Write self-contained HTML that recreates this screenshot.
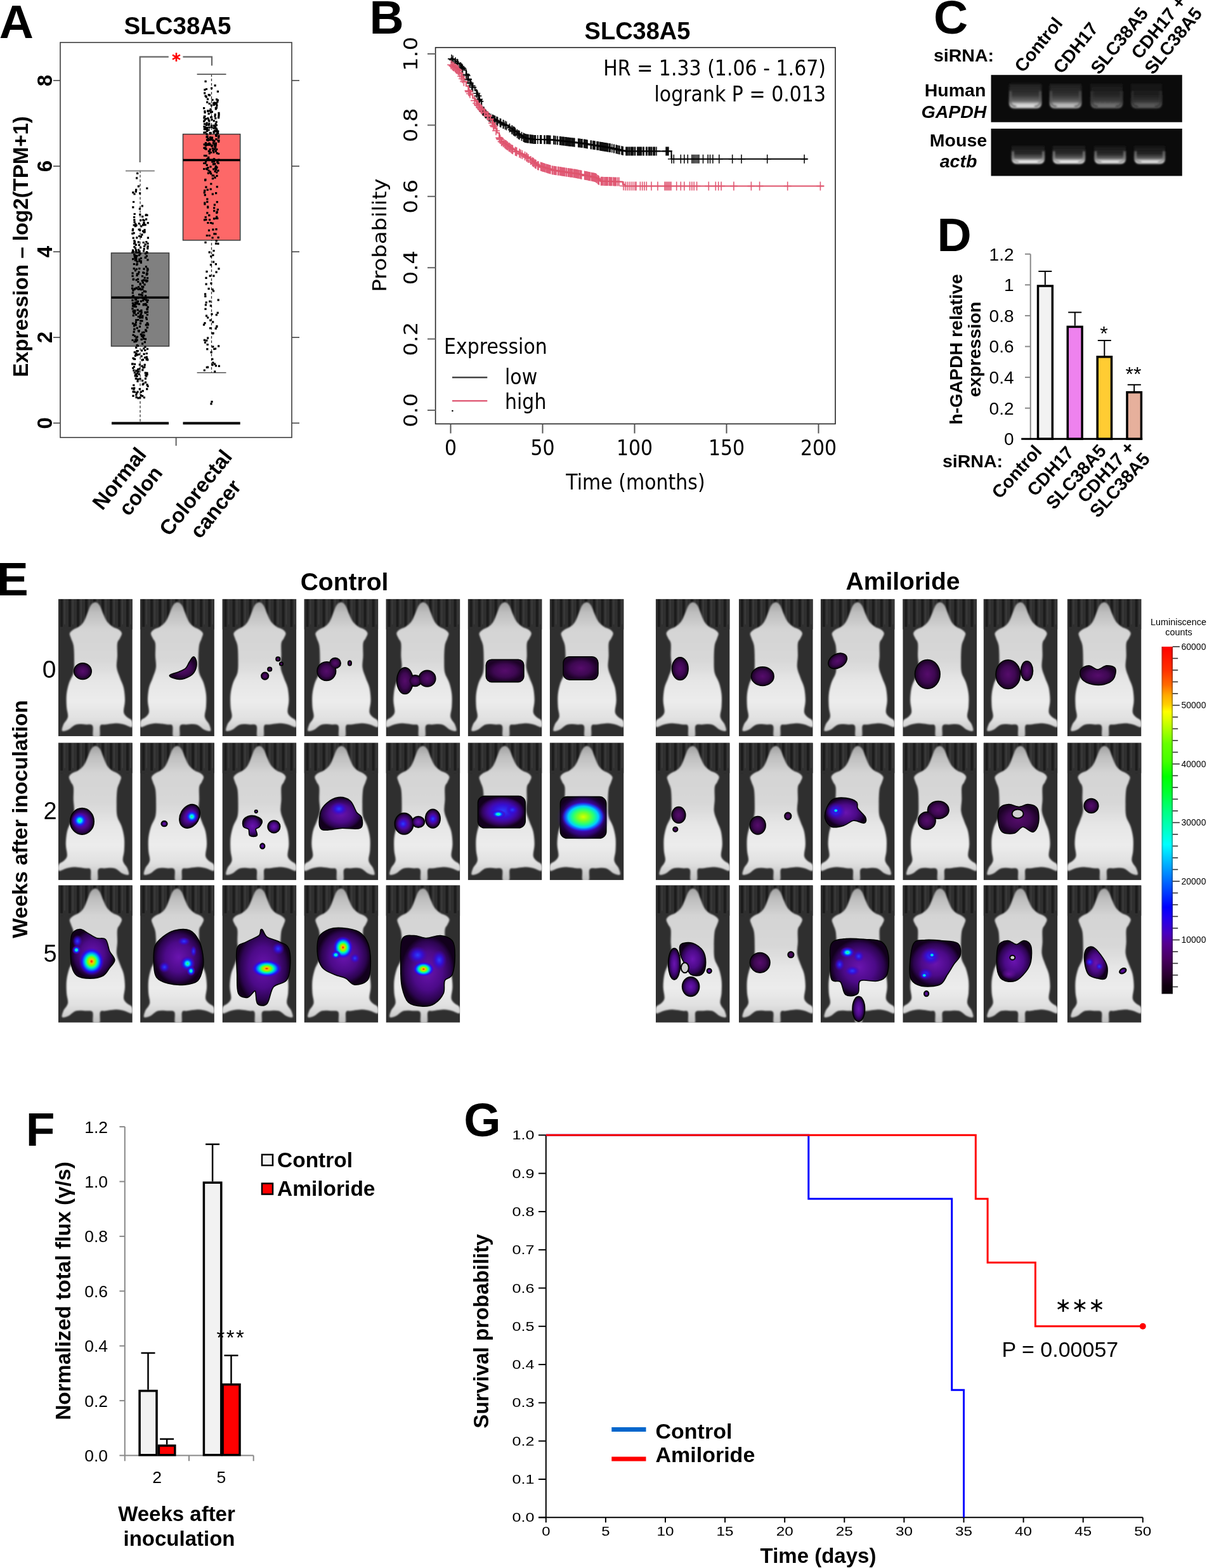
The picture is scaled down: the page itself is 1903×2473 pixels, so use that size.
<!DOCTYPE html>
<html><head><meta charset="utf-8"><title>Figure</title>
<style>html,body{margin:0;padding:0;background:#fff;}svg{display:block;}</style>
</head><body>
<svg width="1903" height="2473" viewBox="0 0 1903 2473" font-family="'Liberation Sans', Arial, Helvetica, sans-serif">
<rect width="1903" height="2473" fill="#fff"/>
<defs>
<clipPath id="tclip"><rect width="116.8" height="216.5"/></clipPath>
<filter id="blur1" x="-20%" y="-50%" width="140%" height="200%"><feGaussianBlur stdDeviation="1.2"/></filter>
<filter id="blur2" x="-20%" y="-50%" width="140%" height="200%"><feGaussianBlur stdDeviation="1.8"/></filter>
<filter id="blur3" x="-20%" y="-50%" width="140%" height="200%"><feGaussianBlur stdDeviation="3"/></filter>
<filter id="mblur" x="-5%" y="-5%" width="110%" height="110%"><feGaussianBlur stdDeviation="1.3"/></filter>
<linearGradient id="mg" gradientUnits="userSpaceOnUse" x1="0" y1="0" x2="0" y2="216">
<stop offset="0" stop-color="#9a9a9a"/><stop offset="0.1" stop-color="#bebebe"/><stop offset="0.22" stop-color="#d4d4d4"/>
<stop offset="0.45" stop-color="#d8d8d8"/><stop offset="0.6" stop-color="#e6e6e6"/><stop offset="0.75" stop-color="#ececec"/><stop offset="0.88" stop-color="#e0e0e0"/><stop offset="1" stop-color="#c0c0c0"/>
</linearGradient>
<pattern id="stripes" patternUnits="userSpaceOnUse" width="13" height="48">
<rect width="13" height="48" fill="#2f2f2f"/><rect x="3" width="4" height="44" fill="#1c1c1c"/><rect x="9" width="2" height="40" fill="#3a3a3a"/>
</pattern>
<path id="mouse" d="M58.0 5.0 C60.3 5.0 62.8 6.8 65.0 10.0 C67.2 13.2 69.0 19.7 71.0 24.0 C73.0 28.3 74.5 32.7 77.0 36.0 C79.5 39.3 83.0 42.0 86.0 44.0 C89.0 46.0 92.7 46.3 95.0 48.0 C97.3 49.7 99.7 51.7 100.0 54.0 C100.3 56.3 98.2 59.3 97.0 62.0 C95.8 64.7 93.7 65.3 93.0 70.0 C92.3 74.7 93.2 83.7 93.0 90.0 C92.8 96.3 91.3 102.3 92.0 108.0 C92.7 113.7 95.2 118.7 97.0 124.0 C98.8 129.3 101.7 134.0 103.0 140.0 C104.3 146.0 105.0 153.7 105.0 160.0 C105.0 166.3 102.5 173.7 103.0 178.0 C103.5 182.3 105.8 183.7 108.0 186.0 C110.2 188.3 114.7 189.3 116.0 192.0 C117.3 194.7 118.0 201.0 116.0 202.0 C114.0 203.0 108.0 199.0 104.0 198.0 C100.0 197.0 97.0 196.0 92.0 196.0 C87.0 196.0 78.3 197.3 74.0 198.0 C69.7 198.7 67.5 196.8 66.0 200.0 C64.5 203.2 66.8 214.2 65.0 217.0 C63.2 219.8 56.8 219.8 55.0 217.0 C53.2 214.2 55.8 203.2 54.0 200.0 C52.2 196.8 48.3 198.3 44.0 198.0 C39.7 197.7 32.7 196.7 28.0 198.0 C23.3 199.3 19.7 204.3 16.0 206.0 C12.3 207.7 7.3 209.3 6.0 208.0 C4.7 206.7 6.5 201.7 8.0 198.0 C9.5 194.3 14.2 190.7 15.0 186.0 C15.8 181.3 13.3 176.0 13.0 170.0 C12.7 164.0 12.3 156.3 13.0 150.0 C13.7 143.7 15.2 137.7 17.0 132.0 C18.8 126.3 22.7 122.0 24.0 116.0 C25.3 110.0 25.0 103.0 25.0 96.0 C25.0 89.0 24.8 79.7 24.0 74.0 C23.2 68.3 21.0 65.3 20.0 62.0 C19.0 58.7 17.3 56.3 18.0 54.0 C18.7 51.7 21.7 49.7 24.0 48.0 C26.3 46.3 29.3 46.0 32.0 44.0 C34.7 42.0 37.7 39.7 40.0 36.0 C42.3 32.3 44.2 26.3 46.0 22.0 C47.8 17.7 49.0 12.8 51.0 10.0 C53.0 7.2 55.7 5.0 58.0 5.0Z" fill="url(#mg)" filter="url(#mblur)"/>
<radialGradient id="gP"><stop offset="0" stop-color="#560c6c"/><stop offset="0.6" stop-color="#3e0852"/><stop offset="1" stop-color="#1c0226"/></radialGradient>
<radialGradient id="gV"><stop offset="0" stop-color="#6a14b0"/><stop offset="0.55" stop-color="#4c0a88"/><stop offset="0.85" stop-color="#2c0450"/><stop offset="1" stop-color="#12001c"/></radialGradient>
<radialGradient id="h4"><stop offset="0" stop-color="#d8ff00"/><stop offset="0.25" stop-color="#80ff20"/><stop offset="0.5" stop-color="#20ff80"/><stop offset="0.7" stop-color="#00d0ff"/><stop offset="0.87" stop-color="#1848ff" stop-opacity="0.8"/><stop offset="1" stop-color="#4a00c0" stop-opacity="0"/></radialGradient>
<radialGradient id="h0"><stop offset="0" stop-color="#6a10a0"/><stop offset="1" stop-color="#6a10a0" stop-opacity="0"/></radialGradient>
<radialGradient id="h1"><stop offset="0" stop-color="#2a40ff"/><stop offset="0.45" stop-color="#3010e0" stop-opacity="0.85"/><stop offset="1" stop-color="#4800b0" stop-opacity="0"/></radialGradient>
<radialGradient id="h2"><stop offset="0" stop-color="#30ff50"/><stop offset="0.22" stop-color="#00e8ff"/><stop offset="0.5" stop-color="#1030ff"/><stop offset="0.8" stop-color="#4a00c0" stop-opacity="0.6"/><stop offset="1" stop-color="#4a00c0" stop-opacity="0"/></radialGradient>
<radialGradient id="h3"><stop offset="0" stop-color="#ff1000"/><stop offset="0.14" stop-color="#ffc000"/><stop offset="0.3" stop-color="#80ff00"/><stop offset="0.45" stop-color="#00ffb0"/><stop offset="0.6" stop-color="#0090ff"/><stop offset="0.76" stop-color="#2010ff" stop-opacity="0.9"/><stop offset="1" stop-color="#4a00c0" stop-opacity="0"/></radialGradient>
<linearGradient id="cbar" x1="0" y1="0" x2="0" y2="1"><stop offset="0" stop-color="#ff0000"/><stop offset="0.067" stop-color="#ff3000"/><stop offset="0.11" stop-color="#ff6a00"/><stop offset="0.14" stop-color="#ffaa00"/><stop offset="0.167" stop-color="#ffd000"/><stop offset="0.187" stop-color="#ffff00"/><stop offset="0.21" stop-color="#ddff00"/><stop offset="0.24" stop-color="#aaff00"/><stop offset="0.28" stop-color="#66ff00"/><stop offset="0.33" stop-color="#44ff00"/><stop offset="0.374" stop-color="#00ff00"/><stop offset="0.419" stop-color="#00ff30"/><stop offset="0.473" stop-color="#00ff80"/><stop offset="0.524" stop-color="#00ffc0"/><stop offset="0.57" stop-color="#00ffff"/><stop offset="0.615" stop-color="#00c0ff"/><stop offset="0.66" stop-color="#0080ff"/><stop offset="0.705" stop-color="#0040ff"/><stop offset="0.75" stop-color="#0000ff"/><stop offset="0.78" stop-color="#2000f0"/><stop offset="0.826" stop-color="#4800c0"/><stop offset="0.856" stop-color="#550090"/><stop offset="0.9" stop-color="#480060"/><stop offset="0.946" stop-color="#2a0030"/><stop offset="0.976" stop-color="#100010"/><stop offset="1" stop-color="#080008"/></linearGradient>
<linearGradient id="cbarShade" x1="0" y1="0" x2="1" y2="0">
<stop offset="0" stop-color="#888" stop-opacity="0.55"/><stop offset="0.15" stop-color="#000" stop-opacity="0"/><stop offset="0.85" stop-color="#000" stop-opacity="0"/><stop offset="1" stop-color="#000" stop-opacity="0.45"/>
</linearGradient>
</defs>
<text x="-1.2" y="60.0" font-size="75.0" font-weight="bold">A</text>
<text x="280.0" y="53.6" font-size="38.5" font-weight="bold" text-anchor="middle">SLC38A5</text>
<line x1="221.0" y1="268.8" x2="221.0" y2="667.3" stroke="#333" stroke-width="1.30" stroke-dasharray="4,3"/>
<line x1="333.5" y1="117.1" x2="333.5" y2="587.7" stroke="#333" stroke-width="1.30" stroke-dasharray="4,3"/>
<rect x="175.5" y="399.0" width="91.0" height="147.0" fill="#808080" stroke="#3a3a3a" stroke-width="1.50"/>
<line x1="175.5" y1="469.3" x2="266.5" y2="469.3" stroke="#000" stroke-width="3.50"/>
<rect x="288.5" y="211.6" width="90.2" height="167.3" fill="#fd6868" stroke="#3a3a3a" stroke-width="1.50"/>
<line x1="288.5" y1="252.6" x2="378.7" y2="252.6" stroke="#000" stroke-width="3.50"/>
<line x1="198.0" y1="269.5" x2="243.8" y2="269.5" stroke="#888" stroke-width="2.00"/>
<line x1="310.6" y1="117.1" x2="356.5" y2="117.1" stroke="#555" stroke-width="1.60"/>
<line x1="310.6" y1="587.7" x2="356.5" y2="587.7" stroke="#555" stroke-width="1.60"/>
<line x1="176.0" y1="667.5" x2="266.0" y2="667.5" stroke="#000" stroke-width="4.00"/>
<line x1="288.5" y1="667.5" x2="378.7" y2="667.5" stroke="#000" stroke-width="4.00"/>
<path d="M223.2 582.0h3.2v3.2h-3.2zM216.0 468.4h3.2v3.2h-3.2zM207.8 476.8h3.2v3.2h-3.2zM209.2 605.9h3.2v3.2h-3.2zM210.0 382.5h3.2v3.2h-3.2zM230.6 441.3h3.2v3.2h-3.2zM231.3 509.4h3.2v3.2h-3.2zM214.1 373.2h3.2v3.2h-3.2zM214.6 591.8h3.2v3.2h-3.2zM222.9 434.1h3.2v3.2h-3.2zM208.5 464.9h3.2v3.2h-3.2zM223.9 565.7h3.2v3.2h-3.2zM221.5 533.8h3.2v3.2h-3.2zM226.8 538.1h3.2v3.2h-3.2zM213.0 393.0h3.2v3.2h-3.2zM228.8 471.5h3.2v3.2h-3.2zM209.9 512.3h3.2v3.2h-3.2zM210.7 403.1h3.2v3.2h-3.2zM223.6 615.0h3.2v3.2h-3.2zM214.7 587.3h3.2v3.2h-3.2zM221.8 527.8h3.2v3.2h-3.2zM227.9 491.9h3.2v3.2h-3.2zM208.4 563.4h3.2v3.2h-3.2zM223.1 454.5h3.2v3.2h-3.2zM214.0 279.2h3.2v3.2h-3.2zM207.5 429.2h3.2v3.2h-3.2zM209.8 576.9h3.2v3.2h-3.2zM210.1 399.8h3.2v3.2h-3.2zM228.7 511.1h3.2v3.2h-3.2zM220.6 493.9h3.2v3.2h-3.2zM213.9 415.8h3.2v3.2h-3.2zM229.0 520.6h3.2v3.2h-3.2zM210.7 586.0h3.2v3.2h-3.2zM212.7 558.1h3.2v3.2h-3.2zM213.5 452.6h3.2v3.2h-3.2zM216.1 502.9h3.2v3.2h-3.2zM224.2 345.2h3.2v3.2h-3.2zM223.8 444.2h3.2v3.2h-3.2zM226.4 361.0h3.2v3.2h-3.2zM216.9 450.9h3.2v3.2h-3.2zM208.5 439.3h3.2v3.2h-3.2zM211.0 564.9h3.2v3.2h-3.2zM206.9 611.0h3.2v3.2h-3.2zM216.0 596.6h3.2v3.2h-3.2zM222.3 368.5h3.2v3.2h-3.2zM215.6 552.1h3.2v3.2h-3.2zM228.1 590.3h3.2v3.2h-3.2zM219.0 303.3h3.2v3.2h-3.2zM215.5 596.4h3.2v3.2h-3.2zM210.9 381.9h3.2v3.2h-3.2zM220.1 345.8h3.2v3.2h-3.2zM207.6 466.2h3.2v3.2h-3.2zM228.5 337.7h3.2v3.2h-3.2zM213.4 531.0h3.2v3.2h-3.2zM226.2 577.2h3.2v3.2h-3.2zM215.1 396.6h3.2v3.2h-3.2zM231.5 387.0h3.2v3.2h-3.2zM225.4 428.9h3.2v3.2h-3.2zM215.8 473.7h3.2v3.2h-3.2zM213.9 618.3h3.2v3.2h-3.2zM230.8 422.1h3.2v3.2h-3.2zM231.6 350.0h3.2v3.2h-3.2zM216.0 581.1h3.2v3.2h-3.2zM211.8 559.6h3.2v3.2h-3.2zM229.4 442.3h3.2v3.2h-3.2zM226.9 562.4h3.2v3.2h-3.2zM229.6 431.6h3.2v3.2h-3.2zM225.7 457.8h3.2v3.2h-3.2zM226.6 573.8h3.2v3.2h-3.2zM231.2 390.2h3.2v3.2h-3.2zM230.6 508.1h3.2v3.2h-3.2zM210.7 453.7h3.2v3.2h-3.2zM227.1 440.5h3.2v3.2h-3.2zM231.4 382.6h3.2v3.2h-3.2zM210.2 517.6h3.2v3.2h-3.2zM223.1 340.0h3.2v3.2h-3.2zM217.7 351.0h3.2v3.2h-3.2zM227.6 404.5h3.2v3.2h-3.2zM214.2 552.2h3.2v3.2h-3.2zM213.4 453.4h3.2v3.2h-3.2zM229.7 587.8h3.2v3.2h-3.2zM221.5 491.3h3.2v3.2h-3.2zM219.4 595.8h3.2v3.2h-3.2zM207.4 472.0h3.2v3.2h-3.2zM207.0 572.5h3.2v3.2h-3.2zM211.2 401.2h3.2v3.2h-3.2zM220.8 412.5h3.2v3.2h-3.2zM220.8 473.5h3.2v3.2h-3.2zM213.1 405.2h3.2v3.2h-3.2zM219.6 398.6h3.2v3.2h-3.2zM229.7 402.2h3.2v3.2h-3.2zM219.5 445.7h3.2v3.2h-3.2zM218.2 422.1h3.2v3.2h-3.2zM230.4 485.4h3.2v3.2h-3.2zM228.8 419.0h3.2v3.2h-3.2zM230.5 474.8h3.2v3.2h-3.2zM210.3 387.8h3.2v3.2h-3.2zM208.7 496.0h3.2v3.2h-3.2zM223.6 604.9h3.2v3.2h-3.2zM224.8 440.2h3.2v3.2h-3.2zM210.5 492.2h3.2v3.2h-3.2zM230.7 425.6h3.2v3.2h-3.2zM231.6 482.7h3.2v3.2h-3.2zM210.9 479.0h3.2v3.2h-3.2zM215.4 474.3h3.2v3.2h-3.2zM225.0 532.5h3.2v3.2h-3.2zM217.9 463.0h3.2v3.2h-3.2zM222.5 528.7h3.2v3.2h-3.2zM231.5 607.6h3.2v3.2h-3.2zM213.5 440.1h3.2v3.2h-3.2zM213.7 396.6h3.2v3.2h-3.2zM229.7 501.9h3.2v3.2h-3.2zM213.4 475.2h3.2v3.2h-3.2zM221.2 355.2h3.2v3.2h-3.2zM224.1 451.1h3.2v3.2h-3.2zM230.4 605.2h3.2v3.2h-3.2zM226.9 458.1h3.2v3.2h-3.2zM208.6 373.8h3.2v3.2h-3.2zM220.7 525.8h3.2v3.2h-3.2zM213.6 453.1h3.2v3.2h-3.2zM212.9 471.0h3.2v3.2h-3.2zM208.2 578.9h3.2v3.2h-3.2zM214.5 534.4h3.2v3.2h-3.2zM211.3 488.6h3.2v3.2h-3.2zM213.2 621.2h3.2v3.2h-3.2zM220.7 410.2h3.2v3.2h-3.2zM230.3 486.4h3.2v3.2h-3.2zM217.7 384.8h3.2v3.2h-3.2zM216.7 380.2h3.2v3.2h-3.2zM231.5 423.5h3.2v3.2h-3.2zM224.6 380.9h3.2v3.2h-3.2zM217.0 396.6h3.2v3.2h-3.2zM210.1 610.5h3.2v3.2h-3.2zM213.3 407.9h3.2v3.2h-3.2zM227.9 601.6h3.2v3.2h-3.2zM213.0 494.8h3.2v3.2h-3.2zM210.8 490.9h3.2v3.2h-3.2zM230.9 548.8h3.2v3.2h-3.2zM213.0 297.8h3.2v3.2h-3.2zM214.6 515.7h3.2v3.2h-3.2zM216.4 626.2h3.2v3.2h-3.2zM211.9 478.1h3.2v3.2h-3.2zM213.5 625.1h3.2v3.2h-3.2zM207.9 508.6h3.2v3.2h-3.2zM212.7 536.7h3.2v3.2h-3.2zM225.7 470.3h3.2v3.2h-3.2zM216.6 497.8h3.2v3.2h-3.2zM210.6 335.9h3.2v3.2h-3.2zM223.0 598.7h3.2v3.2h-3.2zM229.2 380.0h3.2v3.2h-3.2zM210.4 481.7h3.2v3.2h-3.2zM227.8 477.7h3.2v3.2h-3.2zM227.6 586.6h3.2v3.2h-3.2zM224.0 363.0h3.2v3.2h-3.2zM210.2 467.8h3.2v3.2h-3.2zM227.8 595.6h3.2v3.2h-3.2zM222.6 441.2h3.2v3.2h-3.2zM219.1 453.8h3.2v3.2h-3.2zM225.6 391.1h3.2v3.2h-3.2zM223.4 468.6h3.2v3.2h-3.2zM213.2 409.1h3.2v3.2h-3.2zM225.1 548.1h3.2v3.2h-3.2zM231.3 408.2h3.2v3.2h-3.2zM218.9 513.6h3.2v3.2h-3.2zM223.0 460.4h3.2v3.2h-3.2zM213.2 583.0h3.2v3.2h-3.2zM214.5 558.2h3.2v3.2h-3.2zM208.4 622.8h3.2v3.2h-3.2zM224.2 428.2h3.2v3.2h-3.2zM218.5 489.5h3.2v3.2h-3.2zM229.2 591.6h3.2v3.2h-3.2zM230.3 337.8h3.2v3.2h-3.2zM227.4 491.1h3.2v3.2h-3.2zM218.1 395.0h3.2v3.2h-3.2zM230.5 564.6h3.2v3.2h-3.2zM210.4 454.9h3.2v3.2h-3.2zM210.2 345.3h3.2v3.2h-3.2zM224.5 603.6h3.2v3.2h-3.2zM219.1 361.6h3.2v3.2h-3.2zM219.2 625.5h3.2v3.2h-3.2zM210.4 537.4h3.2v3.2h-3.2zM227.9 533.2h3.2v3.2h-3.2zM227.9 404.9h3.2v3.2h-3.2zM224.7 353.1h3.2v3.2h-3.2zM214.1 477.2h3.2v3.2h-3.2zM231.9 510.6h3.2v3.2h-3.2zM217.6 520.1h3.2v3.2h-3.2zM209.4 612.3h3.2v3.2h-3.2zM213.1 503.2h3.2v3.2h-3.2zM211.6 475.7h3.2v3.2h-3.2zM229.0 344.3h3.2v3.2h-3.2zM222.7 323.3h3.2v3.2h-3.2zM224.9 394.4h3.2v3.2h-3.2zM218.2 410.4h3.2v3.2h-3.2zM223.0 499.3h3.2v3.2h-3.2zM230.1 612.1h3.2v3.2h-3.2zM215.5 487.2h3.2v3.2h-3.2zM231.3 408.4h3.2v3.2h-3.2zM214.4 432.9h3.2v3.2h-3.2zM211.1 510.1h3.2v3.2h-3.2zM229.5 565.2h3.2v3.2h-3.2zM229.6 561.6h3.2v3.2h-3.2zM210.4 304.4h3.2v3.2h-3.2zM215.4 599.8h3.2v3.2h-3.2zM213.4 555.9h3.2v3.2h-3.2zM225.6 364.7h3.2v3.2h-3.2zM220.0 504.4h3.2v3.2h-3.2zM208.5 526.7h3.2v3.2h-3.2zM210.0 340.9h3.2v3.2h-3.2zM228.5 440.7h3.2v3.2h-3.2zM213.1 546.5h3.2v3.2h-3.2zM230.7 494.9h3.2v3.2h-3.2zM207.7 460.4h3.2v3.2h-3.2zM229.3 479.5h3.2v3.2h-3.2zM206.9 453.2h3.2v3.2h-3.2zM227.5 353.0h3.2v3.2h-3.2zM209.6 422.1h3.2v3.2h-3.2zM224.0 472.4h3.2v3.2h-3.2zM224.9 478.2h3.2v3.2h-3.2zM220.7 463.2h3.2v3.2h-3.2zM212.7 395.6h3.2v3.2h-3.2zM223.0 540.5h3.2v3.2h-3.2zM213.2 588.8h3.2v3.2h-3.2zM208.7 479.8h3.2v3.2h-3.2zM216.6 454.5h3.2v3.2h-3.2zM207.2 449.1h3.2v3.2h-3.2zM230.9 490.6h3.2v3.2h-3.2zM229.0 499.5h3.2v3.2h-3.2zM213.1 557.2h3.2v3.2h-3.2zM207.4 485.3h3.2v3.2h-3.2zM217.4 427.5h3.2v3.2h-3.2zM230.0 429.6h3.2v3.2h-3.2zM215.4 616.5h3.2v3.2h-3.2zM211.9 425.1h3.2v3.2h-3.2zM225.4 522.6h3.2v3.2h-3.2zM231.1 566.0h3.2v3.2h-3.2zM212.7 384.5h3.2v3.2h-3.2zM214.3 402.1h3.2v3.2h-3.2zM212.5 511.1h3.2v3.2h-3.2zM230.6 430.2h3.2v3.2h-3.2zM212.2 510.4h3.2v3.2h-3.2zM208.2 325.2h3.2v3.2h-3.2zM229.4 510.4h3.2v3.2h-3.2zM225.2 468.7h3.2v3.2h-3.2zM215.1 271.8h3.2v3.2h-3.2zM225.6 350.3h3.2v3.2h-3.2zM216.4 430.4h3.2v3.2h-3.2zM211.1 528.6h3.2v3.2h-3.2zM215.7 543.9h3.2v3.2h-3.2zM212.1 351.8h3.2v3.2h-3.2zM227.5 384.0h3.2v3.2h-3.2zM218.7 612.0h3.2v3.2h-3.2zM211.7 355.1h3.2v3.2h-3.2zM207.7 361.8h3.2v3.2h-3.2zM226.1 386.9h3.2v3.2h-3.2zM208.5 616.2h3.2v3.2h-3.2zM213.3 353.7h3.2v3.2h-3.2zM213.7 422.9h3.2v3.2h-3.2zM222.3 504.6h3.2v3.2h-3.2zM214.8 415.0h3.2v3.2h-3.2zM225.8 625.4h3.2v3.2h-3.2zM207.5 572.2h3.2v3.2h-3.2zM230.8 486.3h3.2v3.2h-3.2zM216.6 584.5h3.2v3.2h-3.2zM219.2 499.6h3.2v3.2h-3.2zM225.4 422.6h3.2v3.2h-3.2zM226.2 364.4h3.2v3.2h-3.2zM214.9 529.8h3.2v3.2h-3.2zM208.9 395.6h3.2v3.2h-3.2zM213.1 404.3h3.2v3.2h-3.2zM220.7 616.5h3.2v3.2h-3.2zM229.0 337.2h3.2v3.2h-3.2zM209.0 316.9h3.2v3.2h-3.2zM224.6 479.4h3.2v3.2h-3.2zM217.3 557.4h3.2v3.2h-3.2zM228.1 518.7h3.2v3.2h-3.2zM209.9 564.5h3.2v3.2h-3.2zM216.2 492.4h3.2v3.2h-3.2zM211.9 390.0h3.2v3.2h-3.2zM210.7 554.1h3.2v3.2h-3.2zM216.8 520.1h3.2v3.2h-3.2zM212.7 300.5h3.2v3.2h-3.2zM223.2 496.8h3.2v3.2h-3.2zM218.8 327.8h3.2v3.2h-3.2zM207.9 393.2h3.2v3.2h-3.2zM211.6 591.3h3.2v3.2h-3.2zM230.2 295.4h3.2v3.2h-3.2zM218.1 370.9h3.2v3.2h-3.2zM230.5 397.0h3.2v3.2h-3.2zM222.4 450.6h3.2v3.2h-3.2zM210.4 517.7h3.2v3.2h-3.2zM221.9 551.3h3.2v3.2h-3.2zM212.0 589.7h3.2v3.2h-3.2zM223.9 529.9h3.2v3.2h-3.2zM212.0 534.4h3.2v3.2h-3.2zM209.4 492.0h3.2v3.2h-3.2zM222.9 464.2h3.2v3.2h-3.2zM224.3 578.2h3.2v3.2h-3.2zM214.6 542.9h3.2v3.2h-3.2zM214.7 476.7h3.2v3.2h-3.2zM217.3 521.1h3.2v3.2h-3.2zM211.8 408.8h3.2v3.2h-3.2zM212.0 471.1h3.2v3.2h-3.2zM217.5 360.4h3.2v3.2h-3.2zM218.4 580.3h3.2v3.2h-3.2zM220.7 622.1h3.2v3.2h-3.2zM229.6 396.0h3.2v3.2h-3.2zM216.2 442.9h3.2v3.2h-3.2zM214.0 583.5h3.2v3.2h-3.2zM209.6 353.4h3.2v3.2h-3.2zM231.1 389.0h3.2v3.2h-3.2zM230.5 589.1h3.2v3.2h-3.2zM208.2 302.1h3.2v3.2h-3.2zM222.4 575.7h3.2v3.2h-3.2zM210.9 379.8h3.2v3.2h-3.2zM228.1 458.4h3.2v3.2h-3.2zM211.5 405.5h3.2v3.2h-3.2zM219.8 508.5h3.2v3.2h-3.2zM213.1 590.2h3.2v3.2h-3.2zM221.0 455.0h3.2v3.2h-3.2zM207.9 481.0h3.2v3.2h-3.2zM220.7 405.7h3.2v3.2h-3.2zM214.6 411.3h3.2v3.2h-3.2zM217.5 454.6h3.2v3.2h-3.2zM207.5 534.9h3.2v3.2h-3.2zM212.8 482.1h3.2v3.2h-3.2zM226.4 447.2h3.2v3.2h-3.2zM218.7 573.5h3.2v3.2h-3.2zM217.7 588.6h3.2v3.2h-3.2zM219.7 496.1h3.2v3.2h-3.2zM209.0 438.7h3.2v3.2h-3.2zM208.3 456.6h3.2v3.2h-3.2zM230.7 515.0h3.2v3.2h-3.2zM231.8 373.6h3.2v3.2h-3.2zM227.3 545.5h3.2v3.2h-3.2zM219.2 336.8h3.2v3.2h-3.2zM226.6 436.5h3.2v3.2h-3.2zM208.5 489.2h3.2v3.2h-3.2zM210.9 403.3h3.2v3.2h-3.2zM210.5 488.3h3.2v3.2h-3.2zM212.1 355.0h3.2v3.2h-3.2zM214.9 477.2h3.2v3.2h-3.2zM210.9 572.8h3.2v3.2h-3.2zM223.9 353.3h3.2v3.2h-3.2zM209.8 414.9h3.2v3.2h-3.2zM215.9 438.7h3.2v3.2h-3.2zM220.8 371.7h3.2v3.2h-3.2zM209.5 366.0h3.2v3.2h-3.2zM216.8 292.2h3.2v3.2h-3.2zM221.3 488.0h3.2v3.2h-3.2zM218.0 400.8h3.2v3.2h-3.2zM208.1 407.1h3.2v3.2h-3.2zM231.5 471.9h3.2v3.2h-3.2zM214.7 430.6h3.2v3.2h-3.2zM210.6 616.6h3.2v3.2h-3.2zM219.7 499.0h3.2v3.2h-3.2zM210.2 378.2h3.2v3.2h-3.2zM207.5 433.8h3.2v3.2h-3.2zM209.6 521.8h3.2v3.2h-3.2zM221.5 560.3h3.2v3.2h-3.2zM222.5 566.3h3.2v3.2h-3.2zM230.3 586.8h3.2v3.2h-3.2zM209.3 582.5h3.2v3.2h-3.2zM216.9 392.5h3.2v3.2h-3.2zM223.0 623.1h3.2v3.2h-3.2zM223.0 523.1h3.2v3.2h-3.2zM225.2 349.9h3.2v3.2h-3.2zM208.0 359.9h3.2v3.2h-3.2zM212.8 506.7h3.2v3.2h-3.2zM207.2 396.6h3.2v3.2h-3.2zM210.5 348.8h3.2v3.2h-3.2zM219.6 447.1h3.2v3.2h-3.2zM227.2 550.9h3.2v3.2h-3.2zM214.4 535.2h3.2v3.2h-3.2zM226.5 364.0h3.2v3.2h-3.2zM225.5 346.2h3.2v3.2h-3.2zM218.2 407.6h3.2v3.2h-3.2zM212.7 595.5h3.2v3.2h-3.2zM225.6 527.5h3.2v3.2h-3.2zM228.0 464.9h3.2v3.2h-3.2zM217.8 478.0h3.2v3.2h-3.2zM220.0 388.7h3.2v3.2h-3.2zM231.0 437.0h3.2v3.2h-3.2zM207.3 366.8h3.2v3.2h-3.2zM225.5 556.8h3.2v3.2h-3.2zM228.9 471.2h3.2v3.2h-3.2zM229.6 555.9h3.2v3.2h-3.2zM224.2 526.9h3.2v3.2h-3.2zM227.9 398.2h3.2v3.2h-3.2zM228.3 479.3h3.2v3.2h-3.2zM333.6 275.3h3.2v3.2h-3.2zM327.3 187.3h3.2v3.2h-3.2zM321.8 199.3h3.2v3.2h-3.2zM341.8 156.4h3.2v3.2h-3.2zM322.5 207.2h3.2v3.2h-3.2zM342.2 205.5h3.2v3.2h-3.2zM320.6 226.2h3.2v3.2h-3.2zM320.9 194.0h3.2v3.2h-3.2zM336.6 234.1h3.2v3.2h-3.2zM337.6 268.7h3.2v3.2h-3.2zM328.6 161.9h3.2v3.2h-3.2zM339.5 190.7h3.2v3.2h-3.2zM321.5 175.8h3.2v3.2h-3.2zM340.7 293.1h3.2v3.2h-3.2zM322.5 126.7h3.2v3.2h-3.2zM324.8 264.7h3.2v3.2h-3.2zM340.2 204.7h3.2v3.2h-3.2zM339.4 206.0h3.2v3.2h-3.2zM335.1 265.2h3.2v3.2h-3.2zM326.8 271.6h3.2v3.2h-3.2zM338.1 197.8h3.2v3.2h-3.2zM324.8 202.0h3.2v3.2h-3.2zM320.4 231.7h3.2v3.2h-3.2zM326.1 173.3h3.2v3.2h-3.2zM328.7 226.7h3.2v3.2h-3.2zM327.6 148.1h3.2v3.2h-3.2zM340.3 164.9h3.2v3.2h-3.2zM334.7 224.3h3.2v3.2h-3.2zM330.4 170.8h3.2v3.2h-3.2zM338.5 204.8h3.2v3.2h-3.2zM332.8 250.5h3.2v3.2h-3.2zM325.1 159.5h3.2v3.2h-3.2zM339.6 201.3h3.2v3.2h-3.2zM324.0 227.1h3.2v3.2h-3.2zM338.2 185.0h3.2v3.2h-3.2zM343.4 213.0h3.2v3.2h-3.2zM331.7 164.5h3.2v3.2h-3.2zM339.0 211.8h3.2v3.2h-3.2zM328.2 193.6h3.2v3.2h-3.2zM339.9 168.3h3.2v3.2h-3.2zM326.7 219.9h3.2v3.2h-3.2zM331.9 198.9h3.2v3.2h-3.2zM322.5 149.8h3.2v3.2h-3.2zM338.8 224.4h3.2v3.2h-3.2zM336.6 226.2h3.2v3.2h-3.2zM328.4 199.6h3.2v3.2h-3.2zM329.5 270.5h3.2v3.2h-3.2zM322.0 282.6h3.2v3.2h-3.2zM341.2 159.0h3.2v3.2h-3.2zM326.2 185.1h3.2v3.2h-3.2zM341.5 208.7h3.2v3.2h-3.2zM341.1 254.1h3.2v3.2h-3.2zM325.5 213.5h3.2v3.2h-3.2zM338.0 263.2h3.2v3.2h-3.2zM338.0 200.6h3.2v3.2h-3.2zM327.7 236.7h3.2v3.2h-3.2zM323.6 244.0h3.2v3.2h-3.2zM337.7 179.1h3.2v3.2h-3.2zM324.0 264.6h3.2v3.2h-3.2zM333.8 280.1h3.2v3.2h-3.2zM322.9 186.1h3.2v3.2h-3.2zM325.6 297.8h3.2v3.2h-3.2zM324.5 192.6h3.2v3.2h-3.2zM340.1 233.9h3.2v3.2h-3.2zM323.6 151.3h3.2v3.2h-3.2zM327.7 195.6h3.2v3.2h-3.2zM332.4 186.9h3.2v3.2h-3.2zM324.4 193.4h3.2v3.2h-3.2zM343.3 181.5h3.2v3.2h-3.2zM343.0 215.8h3.2v3.2h-3.2zM322.3 232.4h3.2v3.2h-3.2zM339.0 303.0h3.2v3.2h-3.2zM337.5 133.2h3.2v3.2h-3.2zM335.2 238.6h3.2v3.2h-3.2zM322.5 202.2h3.2v3.2h-3.2zM320.7 202.0h3.2v3.2h-3.2zM329.5 173.2h3.2v3.2h-3.2zM331.9 196.8h3.2v3.2h-3.2zM335.1 275.4h3.2v3.2h-3.2zM334.4 235.7h3.2v3.2h-3.2zM329.6 207.9h3.2v3.2h-3.2zM330.2 218.4h3.2v3.2h-3.2zM333.7 304.5h3.2v3.2h-3.2zM325.4 213.4h3.2v3.2h-3.2zM337.2 257.0h3.2v3.2h-3.2zM336.7 160.5h3.2v3.2h-3.2zM340.4 262.6h3.2v3.2h-3.2zM330.8 238.9h3.2v3.2h-3.2zM327.4 267.4h3.2v3.2h-3.2zM330.0 226.3h3.2v3.2h-3.2zM338.7 226.9h3.2v3.2h-3.2zM325.9 226.7h3.2v3.2h-3.2zM330.1 270.6h3.2v3.2h-3.2zM329.7 269.3h3.2v3.2h-3.2zM336.1 197.0h3.2v3.2h-3.2zM335.6 189.1h3.2v3.2h-3.2zM338.6 224.5h3.2v3.2h-3.2zM343.3 250.4h3.2v3.2h-3.2zM320.8 181.9h3.2v3.2h-3.2zM338.7 237.1h3.2v3.2h-3.2zM342.5 219.9h3.2v3.2h-3.2zM333.7 232.4h3.2v3.2h-3.2zM332.9 215.5h3.2v3.2h-3.2zM335.2 223.4h3.2v3.2h-3.2zM339.8 262.3h3.2v3.2h-3.2zM342.7 255.8h3.2v3.2h-3.2zM324.9 219.0h3.2v3.2h-3.2zM338.2 229.9h3.2v3.2h-3.2zM322.8 251.5h3.2v3.2h-3.2zM321.3 174.1h3.2v3.2h-3.2zM326.5 217.0h3.2v3.2h-3.2zM329.9 218.7h3.2v3.2h-3.2zM330.0 209.1h3.2v3.2h-3.2zM326.3 225.6h3.2v3.2h-3.2zM325.3 250.2h3.2v3.2h-3.2zM332.5 218.5h3.2v3.2h-3.2zM325.2 312.4h3.2v3.2h-3.2zM325.0 199.9h3.2v3.2h-3.2zM323.0 252.8h3.2v3.2h-3.2zM335.1 200.5h3.2v3.2h-3.2zM331.2 288.4h3.2v3.2h-3.2zM343.0 240.9h3.2v3.2h-3.2zM328.4 224.6h3.2v3.2h-3.2zM339.5 263.0h3.2v3.2h-3.2zM331.1 272.4h3.2v3.2h-3.2zM322.9 227.7h3.2v3.2h-3.2zM339.9 162.4h3.2v3.2h-3.2zM326.3 263.1h3.2v3.2h-3.2zM328.9 148.6h3.2v3.2h-3.2zM324.4 214.2h3.2v3.2h-3.2zM320.0 169.1h3.2v3.2h-3.2zM325.8 219.2h3.2v3.2h-3.2zM327.1 246.7h3.2v3.2h-3.2zM335.2 257.1h3.2v3.2h-3.2zM335.7 207.5h3.2v3.2h-3.2zM340.4 275.7h3.2v3.2h-3.2zM321.3 140.0h3.2v3.2h-3.2zM338.7 170.4h3.2v3.2h-3.2zM323.3 293.5h3.2v3.2h-3.2zM320.3 184.2h3.2v3.2h-3.2zM320.2 264.9h3.2v3.2h-3.2zM325.9 154.8h3.2v3.2h-3.2zM322.3 231.4h3.2v3.2h-3.2zM338.5 194.1h3.2v3.2h-3.2zM328.2 189.3h3.2v3.2h-3.2zM338.9 161.1h3.2v3.2h-3.2zM323.9 138.9h3.2v3.2h-3.2zM338.7 168.7h3.2v3.2h-3.2zM335.9 249.4h3.2v3.2h-3.2zM340.0 155.2h3.2v3.2h-3.2zM324.6 258.8h3.2v3.2h-3.2zM337.7 231.3h3.2v3.2h-3.2zM330.4 261.4h3.2v3.2h-3.2zM326.2 173.7h3.2v3.2h-3.2zM325.5 249.0h3.2v3.2h-3.2zM321.3 181.9h3.2v3.2h-3.2zM331.1 175.7h3.2v3.2h-3.2zM331.9 183.2h3.2v3.2h-3.2zM332.8 174.8h3.2v3.2h-3.2zM340.1 210.0h3.2v3.2h-3.2zM331.1 216.8h3.2v3.2h-3.2zM340.1 270.4h3.2v3.2h-3.2zM328.9 236.9h3.2v3.2h-3.2zM321.7 306.1h3.2v3.2h-3.2zM335.2 161.2h3.2v3.2h-3.2zM334.5 219.8h3.2v3.2h-3.2zM336.3 220.8h3.2v3.2h-3.2zM343.5 179.1h3.2v3.2h-3.2zM332.2 228.8h3.2v3.2h-3.2zM320.7 302.2h3.2v3.2h-3.2zM337.1 204.6h3.2v3.2h-3.2zM340.6 240.1h3.2v3.2h-3.2zM328.7 240.2h3.2v3.2h-3.2zM338.4 263.7h3.2v3.2h-3.2zM325.0 205.0h3.2v3.2h-3.2zM333.2 253.5h3.2v3.2h-3.2zM339.7 195.8h3.2v3.2h-3.2zM329.6 234.1h3.2v3.2h-3.2zM332.0 137.5h3.2v3.2h-3.2zM343.3 219.9h3.2v3.2h-3.2zM335.6 163.9h3.2v3.2h-3.2zM327.5 203.4h3.2v3.2h-3.2zM327.1 249.4h3.2v3.2h-3.2zM338.7 264.1h3.2v3.2h-3.2zM320.9 243.9h3.2v3.2h-3.2zM333.0 228.1h3.2v3.2h-3.2zM321.1 299.1h3.2v3.2h-3.2zM324.5 214.6h3.2v3.2h-3.2zM342.0 208.7h3.2v3.2h-3.2zM338.8 260.8h3.2v3.2h-3.2zM341.7 251.9h3.2v3.2h-3.2zM334.9 257.5h3.2v3.2h-3.2zM336.6 250.6h3.2v3.2h-3.2zM325.0 265.2h3.2v3.2h-3.2zM335.9 249.2h3.2v3.2h-3.2zM322.3 281.7h3.2v3.2h-3.2zM324.3 194.6h3.2v3.2h-3.2zM341.8 142.8h3.2v3.2h-3.2zM335.6 196.5h3.2v3.2h-3.2zM338.8 266.1h3.2v3.2h-3.2zM333.4 156.0h3.2v3.2h-3.2zM330.0 215.0h3.2v3.2h-3.2zM327.5 177.7h3.2v3.2h-3.2zM342.3 267.6h3.2v3.2h-3.2zM321.2 187.9h3.2v3.2h-3.2zM322.8 224.0h3.2v3.2h-3.2zM339.3 218.1h3.2v3.2h-3.2zM330.6 296.7h3.2v3.2h-3.2zM320.2 255.9h3.2v3.2h-3.2zM342.4 255.7h3.2v3.2h-3.2zM343.4 176.7h3.2v3.2h-3.2zM322.3 255.9h3.2v3.2h-3.2zM335.4 206.5h3.2v3.2h-3.2zM320.3 207.5h3.2v3.2h-3.2zM320.0 189.8h3.2v3.2h-3.2zM343.1 221.8h3.2v3.2h-3.2zM322.0 232.7h3.2v3.2h-3.2zM320.3 198.2h3.2v3.2h-3.2zM337.2 229.3h3.2v3.2h-3.2zM324.4 209.9h3.2v3.2h-3.2zM321.1 145.2h3.2v3.2h-3.2zM340.4 203.2h3.2v3.2h-3.2zM337.4 278.6h3.2v3.2h-3.2zM336.9 162.3h3.2v3.2h-3.2zM331.0 183.4h3.2v3.2h-3.2zM343.0 184.0h3.2v3.2h-3.2zM337.1 226.4h3.2v3.2h-3.2zM335.5 206.0h3.2v3.2h-3.2zM339.5 212.7h3.2v3.2h-3.2zM337.4 181.5h3.2v3.2h-3.2zM323.9 195.8h3.2v3.2h-3.2zM321.3 182.1h3.2v3.2h-3.2zM328.7 250.2h3.2v3.2h-3.2zM336.1 253.3h3.2v3.2h-3.2zM323.4 233.6h3.2v3.2h-3.2zM328.6 369.9h3.2v3.2h-3.2zM335.0 411.6h3.2v3.2h-3.2zM329.2 473.7h3.2v3.2h-3.2zM342.6 373.0h3.2v3.2h-3.2zM333.5 373.4h3.2v3.2h-3.2zM321.4 508.0h3.2v3.2h-3.2zM336.8 321.6h3.2v3.2h-3.2zM327.9 361.7h3.2v3.2h-3.2zM343.4 422.3h3.2v3.2h-3.2zM334.3 360.6h3.2v3.2h-3.2zM330.2 503.6h3.2v3.2h-3.2zM328.9 345.1h3.2v3.2h-3.2zM334.3 400.7h3.2v3.2h-3.2zM339.3 342.9h3.2v3.2h-3.2zM319.9 510.5h3.2v3.2h-3.2zM330.0 516.1h3.2v3.2h-3.2zM339.5 427.6h3.2v3.2h-3.2zM320.9 345.3h3.2v3.2h-3.2zM339.4 360.1h3.2v3.2h-3.2zM333.6 350.8h3.2v3.2h-3.2zM340.3 513.1h3.2v3.2h-3.2zM336.3 367.3h3.2v3.2h-3.2zM328.2 338.1h3.2v3.2h-3.2zM333.2 564.8h3.2v3.2h-3.2zM324.7 369.9h3.2v3.2h-3.2zM342.3 382.8h3.2v3.2h-3.2zM334.5 524.0h3.2v3.2h-3.2zM331.1 402.7h3.2v3.2h-3.2zM326.0 531.5h3.2v3.2h-3.2zM338.9 382.6h3.2v3.2h-3.2zM322.0 462.3h3.2v3.2h-3.2zM338.4 367.4h3.2v3.2h-3.2zM333.8 524.3h3.2v3.2h-3.2zM341.1 342.7h3.2v3.2h-3.2zM331.3 445.3h3.2v3.2h-3.2zM324.4 426.8h3.2v3.2h-3.2zM324.2 535.4h3.2v3.2h-3.2zM328.6 396.3h3.2v3.2h-3.2zM329.6 433.6h3.2v3.2h-3.2zM323.5 446.6h3.2v3.2h-3.2zM343.8 575.8h3.2v3.2h-3.2zM322.4 485.7h3.2v3.2h-3.2zM338.8 415.0h3.2v3.2h-3.2zM334.2 545.3h3.2v3.2h-3.2zM332.4 493.7h3.2v3.2h-3.2zM320.7 582.4h3.2v3.2h-3.2zM340.7 317.1h3.2v3.2h-3.2zM333.5 455.0h3.2v3.2h-3.2zM338.6 516.5h3.2v3.2h-3.2zM342.6 471.5h3.2v3.2h-3.2zM339.6 378.2h3.2v3.2h-3.2zM326.0 324.5h3.2v3.2h-3.2zM324.7 577.7h3.2v3.2h-3.2zM321.9 538.6h3.2v3.2h-3.2zM333.3 574.1h3.2v3.2h-3.2zM330.9 349.9h3.2v3.2h-3.2zM341.7 328.9h3.2v3.2h-3.2zM334.3 570.5h3.2v3.2h-3.2zM322.8 479.3h3.2v3.2h-3.2zM326.1 325.6h3.2v3.2h-3.2zM335.3 433.6h3.2v3.2h-3.2zM336.0 326.4h3.2v3.2h-3.2zM330.7 480.5h3.2v3.2h-3.2zM343.1 544.3h3.2v3.2h-3.2zM325.2 316.8h3.2v3.2h-3.2zM326.0 577.5h3.2v3.2h-3.2zM341.6 491.7h3.2v3.2h-3.2zM340.0 340.6h3.2v3.2h-3.2zM338.8 575.2h3.2v3.2h-3.2zM335.4 393.9h3.2v3.2h-3.2zM321.2 318.5h3.2v3.2h-3.2zM338.0 548.4h3.2v3.2h-3.2zM336.1 331.1h3.2v3.2h-3.2zM334.1 506.3h3.2v3.2h-3.2zM322.4 380.7h3.2v3.2h-3.2zM326.1 499.4h3.2v3.2h-3.2zM331.5 554.1h3.2v3.2h-3.2zM325.6 541.9h3.2v3.2h-3.2zM336.2 548.9h3.2v3.2h-3.2zM337.1 584.6h3.2v3.2h-3.2zM320.8 534.7h3.2v3.2h-3.2zM325.2 334.3h3.2v3.2h-3.2zM340.7 332.6h3.2v3.2h-3.2zM323.3 344.9h3.2v3.2h-3.2zM322.2 465.7h3.2v3.2h-3.2zM340.1 334.0h3.2v3.2h-3.2zM330.8 416.1h3.2v3.2h-3.2zM339.7 495.1h3.2v3.2h-3.2zM335.0 457.4h3.2v3.2h-3.2zM325.2 549.0h3.2v3.2h-3.2zM337.0 572.5h3.2v3.2h-3.2zM323.4 436.7h3.2v3.2h-3.2zM326.3 349.9h3.2v3.2h-3.2zM323.6 475.4h3.2v3.2h-3.2zM340.0 513.9h3.2v3.2h-3.2zM323.9 496.5h3.2v3.2h-3.2zM327.5 453.7h3.2v3.2h-3.2zM322.6 341.0h3.2v3.2h-3.2zM321.3 320.3h3.2v3.2h-3.2zM335.9 343.2h3.2v3.2h-3.2zM331.4 635.3h3.2v3.2h-3.2zM332.4 631.9h3.2v3.2h-3.2z" fill="#000"/>
<rect x="95.0" y="67.0" width="365.0" height="623.0" fill="none" stroke="#3c3c3c" stroke-width="1.60"/>
<line x1="84.0" y1="667.3" x2="95.0" y2="667.3" stroke="#444" stroke-width="1.60"/>
<line x1="460.0" y1="667.3" x2="472.0" y2="667.3" stroke="#444" stroke-width="1.60"/>
<text transform="translate(82.0,667.3) rotate(-90)" font-size="33.0" font-weight="bold" text-anchor="middle">0</text>
<line x1="84.0" y1="532.2" x2="95.0" y2="532.2" stroke="#444" stroke-width="1.60"/>
<line x1="460.0" y1="532.2" x2="472.0" y2="532.2" stroke="#444" stroke-width="1.60"/>
<text transform="translate(82.0,532.2) rotate(-90)" font-size="33.0" font-weight="bold" text-anchor="middle">2</text>
<line x1="84.0" y1="397.1" x2="95.0" y2="397.1" stroke="#444" stroke-width="1.60"/>
<line x1="460.0" y1="397.1" x2="472.0" y2="397.1" stroke="#444" stroke-width="1.60"/>
<text transform="translate(82.0,397.1) rotate(-90)" font-size="33.0" font-weight="bold" text-anchor="middle">4</text>
<line x1="84.0" y1="262.1" x2="95.0" y2="262.1" stroke="#444" stroke-width="1.60"/>
<line x1="460.0" y1="262.1" x2="472.0" y2="262.1" stroke="#444" stroke-width="1.60"/>
<text transform="translate(82.0,262.1) rotate(-90)" font-size="33.0" font-weight="bold" text-anchor="middle">6</text>
<line x1="84.0" y1="127.0" x2="95.0" y2="127.0" stroke="#444" stroke-width="1.60"/>
<line x1="460.0" y1="127.0" x2="472.0" y2="127.0" stroke="#444" stroke-width="1.60"/>
<text transform="translate(82.0,127.0) rotate(-90)" font-size="33.0" font-weight="bold" text-anchor="middle">8</text>
<line x1="277.6" y1="690.0" x2="277.6" y2="703.0" stroke="#444" stroke-width="1.60"/>
<path d="M220.7 256 V89.7 H265.8 M288.4 89.7 H334 V103.4" fill="none" stroke="#666" stroke-width="2.2"/>
<text x="277.9" y="96.6" font-size="22.0" font-weight="bold" text-anchor="middle" fill="#ff0000" font-family="'DejaVu Sans', 'Liberation Sans', sans-serif">∗</text>
<text transform="translate(44.0,389.0) rotate(-90)" font-size="33.0" font-weight="bold" text-anchor="middle">Expression – log2(TPM+1)</text>
<text transform="translate(196.9,761.7) rotate(-51.5)" font-size="33.0" font-weight="bold" text-anchor="middle">Normal</text>
<text transform="translate(230.5,781.0) rotate(-51.5)" font-size="33.0" font-weight="bold" text-anchor="middle">colon</text>
<text transform="translate(317.3,784.0) rotate(-51.5)" font-size="33.0" font-weight="bold" text-anchor="middle">Colorectal</text>
<text transform="translate(348.6,809.7) rotate(-51.5)" font-size="33.0" font-weight="bold" text-anchor="middle">cancer</text>
<text x="582.6" y="52.9" font-size="75.0" font-weight="bold">B</text>
<text x="1005.0" y="62.4" font-size="38.0" font-weight="bold" text-anchor="middle">SLC38A5</text>
<rect x="686.6" y="75.0" width="630.4" height="593.5" fill="none" stroke="#222" stroke-width="1.60"/>
<line x1="674.0" y1="647.0" x2="686.6" y2="647.0" stroke="#666" stroke-width="2.00"/>
<text transform="translate(658.0,647.0) scale(1.000,1.130) rotate(-90)" font-size="30.0" text-anchor="middle" font-family="'DejaVu Sans', 'Liberation Sans', sans-serif">0.0</text>
<line x1="674.0" y1="534.6" x2="686.6" y2="534.6" stroke="#666" stroke-width="2.00"/>
<text transform="translate(658.0,534.6) scale(1.000,1.130) rotate(-90)" font-size="30.0" text-anchor="middle" font-family="'DejaVu Sans', 'Liberation Sans', sans-serif">0.2</text>
<line x1="674.0" y1="422.2" x2="686.6" y2="422.2" stroke="#666" stroke-width="2.00"/>
<text transform="translate(658.0,422.2) scale(1.000,1.130) rotate(-90)" font-size="30.0" text-anchor="middle" font-family="'DejaVu Sans', 'Liberation Sans', sans-serif">0.4</text>
<line x1="674.0" y1="309.8" x2="686.6" y2="309.8" stroke="#666" stroke-width="2.00"/>
<text transform="translate(658.0,309.8) scale(1.000,1.130) rotate(-90)" font-size="30.0" text-anchor="middle" font-family="'DejaVu Sans', 'Liberation Sans', sans-serif">0.6</text>
<line x1="674.0" y1="197.4" x2="686.6" y2="197.4" stroke="#666" stroke-width="2.00"/>
<text transform="translate(658.0,197.4) scale(1.000,1.130) rotate(-90)" font-size="30.0" text-anchor="middle" font-family="'DejaVu Sans', 'Liberation Sans', sans-serif">0.8</text>
<line x1="674.0" y1="85.0" x2="686.6" y2="85.0" stroke="#666" stroke-width="2.00"/>
<text transform="translate(658.0,85.0) scale(1.000,1.130) rotate(-90)" font-size="30.0" text-anchor="middle" font-family="'DejaVu Sans', 'Liberation Sans', sans-serif">1.0</text>
<line x1="710.5" y1="668.5" x2="710.5" y2="683.5" stroke="#555" stroke-width="2.00"/>
<text transform="translate(710.5,717.6) scale(1.000,1.130)" font-size="30.0" text-anchor="middle" font-family="'DejaVu Sans', 'Liberation Sans', sans-serif">0</text>
<line x1="855.5" y1="668.5" x2="855.5" y2="683.5" stroke="#555" stroke-width="2.00"/>
<text transform="translate(855.5,717.6) scale(1.000,1.130)" font-size="30.0" text-anchor="middle" font-family="'DejaVu Sans', 'Liberation Sans', sans-serif">50</text>
<line x1="1000.5" y1="668.5" x2="1000.5" y2="683.5" stroke="#555" stroke-width="2.00"/>
<text transform="translate(1000.5,717.6) scale(1.000,1.130)" font-size="30.0" text-anchor="middle" font-family="'DejaVu Sans', 'Liberation Sans', sans-serif">100</text>
<line x1="1145.5" y1="668.5" x2="1145.5" y2="683.5" stroke="#555" stroke-width="2.00"/>
<text transform="translate(1145.5,717.6) scale(1.000,1.130)" font-size="30.0" text-anchor="middle" font-family="'DejaVu Sans', 'Liberation Sans', sans-serif">150</text>
<line x1="1290.5" y1="668.5" x2="1290.5" y2="683.5" stroke="#555" stroke-width="2.00"/>
<text transform="translate(1290.5,717.6) scale(1.000,1.130)" font-size="30.0" text-anchor="middle" font-family="'DejaVu Sans', 'Liberation Sans', sans-serif">200</text>
<text transform="translate(1002.0,772.0) scale(1.000,1.130)" font-size="30.0" text-anchor="middle" font-family="'DejaVu Sans', 'Liberation Sans', sans-serif">Time (months)</text>
<text transform="translate(609.0,371.0) scale(1.000,1.130) rotate(-90)" font-size="30.0" text-anchor="middle" font-family="'DejaVu Sans', 'Liberation Sans', sans-serif">Probability</text>
<text transform="translate(1302.0,118.9) scale(1.000,1.130)" font-size="30.0" text-anchor="end" font-family="'DejaVu Sans', 'Liberation Sans', sans-serif">HR = 1.33 (1.06 - 1.67)</text>
<text transform="translate(1302.0,160.2) scale(1.000,1.130)" font-size="30.0" text-anchor="end" font-family="'DejaVu Sans', 'Liberation Sans', sans-serif">logrank P = 0.013</text>
<text transform="translate(700.0,558.0) scale(1.000,1.130)" font-size="30.0" font-family="'DejaVu Sans', 'Liberation Sans', sans-serif">Expression</text>
<text transform="translate(796.0,606.4) scale(1.000,1.130)" font-size="30.0" font-family="'DejaVu Sans', 'Liberation Sans', sans-serif">low</text>
<text transform="translate(796.0,645.0) scale(1.000,1.130)" font-size="30.0" font-family="'DejaVu Sans', 'Liberation Sans', sans-serif">high</text>
<line x1="713.0" y1="595.3" x2="768.3" y2="595.3" stroke="#444" stroke-width="2.50"/>
<line x1="713.0" y1="632.3" x2="768.3" y2="632.3" stroke="#e0607a" stroke-width="2.50"/>
<circle cx="713.4" cy="648" r="1.3" fill="#000"/>
<path d="M732.1 125.7h12M738.1 118.7v14M767.6 186.2h12M773.6 179.2v14M747.4 151.4h12M753.4 144.4v14M774.6 189.5h12M780.6 182.5v14M777.1 190.7h12M783.1 183.7v14M712.1 97.6h12M718.1 90.6v14M706.0 92.9h12M712.0 85.9v14M801.6 204.9h12M807.6 197.9v14M734.6 130.9h12M740.6 123.9v14M731.7 124.6h12M737.7 117.6v14M820.0 217.0h12M826.0 210.0v14M759.1 179.0h12M765.1 172.0v14M801.5 204.8h12M807.5 197.8v14M759.8 179.7h12M765.8 172.7v14M778.6 191.5h12M784.6 184.5v14M722.0 106.8h12M728.0 99.8v14M778.1 191.3h12M784.1 184.3v14M805.2 207.6h12M811.2 200.6v14M765.2 185.1h12M771.2 178.1v14M790.5 197.4h12M796.5 190.4v14M782.4 193.4h12M788.4 186.4v14M711.9 97.5h12M717.9 90.5v14M792.5 198.4h12M798.5 191.4v14M773.1 188.8h12M779.1 181.8v14M739.4 137.8h12M745.4 130.8v14M708.1 94.5h12M714.1 87.5v14M804.9 207.3h12M810.9 200.3v14M759.3 179.3h12M765.3 172.3v14M787.9 196.1h12M793.9 189.1v14M806.4 208.5h12M812.4 201.5v14M787.3 195.9h12M793.3 188.9v14M811.3 212.2h12M817.3 205.2v14M750.3 159.9h12M756.3 152.9v14M797.4 201.8h12M803.4 194.8v14M756.1 176.0h12M762.1 169.0v14M813.0 213.3h12M819.0 206.3v14M806.4 208.5h12M812.4 201.5v14M715.8 100.5h12M721.8 93.5v14M720.3 104.9h12M726.3 97.9v14M729.7 119.3h12M735.7 112.3v14M816.5 215.2h12M822.5 208.2v14M755.1 175.1h12M761.1 168.1v14M777.2 190.8h12M783.2 183.8v14M739.4 137.8h12M745.4 130.8v14M763.3 183.3h12M769.3 176.3v14M749.3 156.5h12M755.3 149.5v14M745.2 147.3h12M751.2 140.3v14M772.4 188.4h12M778.4 181.4v14M772.3 188.4h12M778.3 181.4v14M809.4 210.7h12M815.4 203.7v14M783.6 194.0h12M789.6 187.0v14M812.3 212.8h12M818.3 205.8v14M803.8 206.6h12M809.8 199.6v14M819.5 216.7h12M825.5 209.7v14M782.4 193.4h12M788.4 186.4v14M723.4 108.4h12M729.4 101.4v14M804.3 206.9h12M810.3 199.9v14M816.4 215.1h12M822.4 208.1v14M809.4 210.7h12M815.4 203.7v14M770.5 187.6h12M776.5 180.6v14M787.3 195.8h12M793.3 188.8v14M729.0 117.5h12M735.0 110.5v14M801.0 204.4h12M807.0 197.4v14M771.0 187.8h12M777.0 180.8v14M737.6 135.2h12M743.6 128.2v14M711.9 97.5h12M717.9 90.5v14M803.6 206.3h12M809.6 199.3v14M819.3 216.6h12M825.3 209.6v14M714.8 99.7h12M720.8 92.7v14M797.4 201.7h12M803.4 194.7v14M906.2 225.4h12M912.2 218.4v14M852.0 220.2h12M858.0 213.2v14M881.9 222.6h12M887.9 215.6v14M981.0 238.4h12M987.0 231.4v14M1002.7 238.4h12M1008.7 231.4v14M829.7 219.2h12M835.7 212.2v14M948.8 232.1h12M954.8 225.1v14M829.9 219.2h12M835.9 212.2v14M970.5 236.5h12M976.5 229.5v14M889.6 223.5h12M895.6 216.5v14M1004.4 238.4h12M1010.4 231.4v14M1025.3 238.4h12M1031.3 231.4v14M926.0 228.3h12M932.0 221.3v14M1029.0 238.4h12M1035.0 231.4v14M885.2 223.0h12M891.2 216.0v14M836.6 219.9h12M842.6 212.9v14M945.7 231.6h12M951.7 224.6v14M827.1 218.8h12M833.1 211.8v14M861.7 220.4h12M867.7 213.4v14M905.7 225.3h12M911.7 218.3v14M948.0 231.9h12M954.0 224.9v14M853.1 220.2h12M859.1 213.2v14M829.4 219.1h12M835.4 212.1v14M1001.7 238.4h12M1007.7 231.4v14M886.0 223.1h12M892.0 216.1v14M1020.7 238.4h12M1026.7 231.4v14M1007.7 238.4h12M1013.7 231.4v14M899.4 224.6h12M905.4 217.6v14M916.6 226.8h12M922.6 219.8v14M929.1 228.8h12M935.1 221.8v14M954.9 233.1h12M960.9 226.1v14M944.9 231.4h12M950.9 224.4v14M937.3 230.1h12M943.3 223.1v14M950.0 232.3h12M956.0 225.3v14M1016.9 238.4h12M1022.9 231.4v14M926.4 228.4h12M932.4 221.4v14M910.5 225.9h12M916.5 218.9v14M970.9 236.6h12M976.9 229.6v14M870.1 221.2h12M876.1 214.2v14M883.4 222.8h12M889.4 215.8v14M1024.7 238.4h12M1030.7 231.4v14M929.3 228.8h12M935.3 221.8v14M935.0 229.8h12M941.0 222.8v14M822.9 218.3h12M828.9 211.3v14M907.2 225.5h12M913.2 218.5v14M941.6 230.9h12M947.6 223.9v14M824.7 218.5h12M830.7 211.5v14M949.1 232.1h12M955.1 225.1v14M952.5 232.7h12M958.5 225.7v14M833.0 219.6h12M839.0 212.6v14M951.5 232.5h12M957.5 225.5v14M917.9 227.0h12M923.9 220.0v14M962.3 234.6h12M968.3 227.6v14M894.1 224.0h12M900.1 217.0v14M968.1 235.9h12M974.1 228.9v14M974.6 237.5h12M980.6 230.5v14M825.1 218.6h12M831.1 211.6v14M833.1 219.6h12M839.1 212.6v14M961.7 234.4h12M967.7 227.4v14M1021.6 238.4h12M1027.6 231.4v14M872.9 221.5h12M878.9 214.5v14M915.8 226.6h12M921.8 219.6v14M944.2 231.3h12M950.2 224.3v14M887.3 223.3h12M893.3 216.3v14M896.5 224.3h12M902.5 217.3v14M885.8 223.1h12M891.8 216.1v14M897.6 224.4h12M903.6 217.4v14M944.9 231.4h12M950.9 224.4v14M883.2 222.8h12M889.2 215.8v14M899.3 224.6h12M905.3 217.6v14M981.8 238.4h12M987.8 231.4v14M826.1 218.7h12M832.1 211.7v14M939.4 230.5h12M945.4 223.5v14M974.0 237.3h12M980.0 230.3v14M885.2 223.0h12M891.2 216.0v14M867.0 220.8h12M873.0 213.8v14M988.3 238.4h12M994.3 231.4v14M870.3 221.2h12M876.3 214.2v14M859.6 220.4h12M865.6 213.4v14M911.4 226.0h12M917.4 219.0v14M966.3 235.5h12M972.3 228.5v14M841.8 220.0h12M847.8 213.0v14M887.7 223.3h12M893.7 216.3v14M890.2 223.6h12M896.2 216.6v14M994.5 238.4h12M1000.5 231.4v14M912.0 226.1h12M918.0 219.1v14M999.1 238.4h12M1005.1 231.4v14M855.8 220.3h12M861.8 213.3v14M890.8 223.7h12M896.8 216.7v14M956.3 233.3h12M962.3 226.3v14M1005.3 238.4h12M1011.3 231.4v14M914.7 226.5h12M920.7 219.5v14M867.5 220.8h12M873.5 213.8v14M845.7 220.1h12M851.7 213.1v14M931.1 229.1h12M937.1 222.1v14M860.3 220.4h12M866.3 213.4v14M989.0 238.4h12M995.0 231.4v14M995.6 238.4h12M1001.6 231.4v14M858.8 220.3h12M864.8 213.3v14M878.7 222.2h12M884.7 215.2v14M989.0 238.4h12M995.0 231.4v14M954.5 233.1h12M960.5 226.1v14M988.8 238.4h12M994.8 231.4v14M892.6 223.9h12M898.6 216.9v14M847.6 220.1h12M853.6 213.1v14M881.5 222.5h12M887.5 215.5v14M986.3 238.4h12M992.3 231.4v14M877.1 222.0h12M883.1 215.0v14M892.8 223.9h12M898.8 216.9v14M907.5 225.5h12M913.5 218.5v14M908.1 225.6h12M914.1 218.6v14M906.0 225.4h12M912.0 218.4v14M1012.7 238.4h12M1018.7 231.4v14M853.1 220.2h12M859.1 213.2v14M821.5 217.8h12M827.5 210.8v14M1017.5 238.4h12M1023.5 231.4v14M1004.2 238.4h12M1010.2 231.4v14M1026.6 238.4h12M1032.6 231.4v14M911.2 226.0h12M917.2 219.0v14M1018.9 238.4h12M1024.9 231.4v14M1014.1 238.4h12M1020.1 231.4v14M866.9 220.8h12M872.9 213.8v14M976.2 237.9h12M982.2 230.9v14M995.2 238.4h12M1001.2 231.4v14M958.9 233.8h12M964.9 226.8v14M928.9 228.8h12M934.9 221.8v14M880.9 222.5h12M886.9 215.5v14M891.7 223.8h12M897.7 216.8v14M868.0 220.9h12M874.0 213.9v14M834.7 219.8h12M840.7 212.8v14M943.4 231.2h12M949.4 224.2v14M880.4 222.4h12M886.4 215.4v14M989.7 238.4h12M995.7 231.4v14M829.9 219.2h12M835.9 212.2v14M1009.2 238.4h12M1015.2 231.4v14M965.3 235.3h12M971.3 228.3v14M1013.4 238.4h12M1019.4 231.4v14M1007.7 238.4h12M1013.7 231.4v14M1008.4 238.4h12M1014.4 231.4v14M941.0 230.8h12M947.0 223.8v14M823.2 218.3h12M829.2 211.3v14M976.1 237.8h12M982.1 230.8v14M856.4 220.3h12M862.4 213.3v14M883.1 222.8h12M889.1 215.8v14M958.9 233.8h12M964.9 226.8v14M930.1 229.0h12M936.1 222.0v14M906.9 225.5h12M912.9 218.5v14M1016.6 238.4h12M1022.6 231.4v14M948.3 232.0h12M954.3 225.0v14M891.8 223.8h12M897.8 216.8v14M873.2 221.5h12M879.2 214.5v14M1000.4 238.4h12M1006.4 231.4v14M920.1 227.4h12M926.1 220.4v14M983.8 238.4h12M989.8 231.4v14M894.0 224.0h12M900.0 217.0v14M861.7 220.4h12M867.7 213.4v14M932.1 229.3h12M938.1 222.3v14M991.1 238.4h12M997.1 231.4v14M856.3 220.3h12M862.3 213.3v14M985.8 238.4h12M991.8 231.4v14M1013.0 238.4h12M1019.0 231.4v14M988.8 238.4h12M994.8 231.4v14M992.4 238.4h12M998.4 231.4v14M822.1 218.1h12M828.1 211.1v14M951.8 232.6h12M957.8 225.6v14M1000.6 238.4h12M1006.6 231.4v14M830.9 219.3h12M836.9 212.3v14M877.2 222.0h12M883.2 215.0v14M876.6 221.9h12M882.6 214.9v14M930.6 229.0h12M936.6 222.0v14M908.8 225.7h12M914.8 218.7v14M919.2 227.2h12M925.2 220.2v14M982.6 238.4h12M988.6 231.4v14M820.9 217.5h12M826.9 210.5v14M831.9 219.5h12M837.9 212.5v14M847.0 220.1h12M853.0 213.1v14M846.5 220.1h12M852.5 213.1v14M834.8 219.9h12M840.8 212.9v14M1024.0 238.4h12M1030.0 231.4v14M998.9 238.4h12M1004.9 231.4v14M838.5 219.9h12M844.5 212.9v14M925.3 228.2h12M931.3 221.2v14M886.5 223.2h12M892.5 216.2v14M886.2 223.1h12M892.2 216.1v14M893.8 224.0h12M899.8 217.0v14M955.6 233.2h12M961.6 226.2v14M943.0 231.1h12M949.0 224.1v14M895.8 224.2h12M901.8 217.2v14M860.4 220.4h12M866.4 213.4v14M889.1 223.5h12M895.1 216.5v14M846.3 220.1h12M852.3 213.1v14M936.5 230.0h12M942.5 223.0v14M970.0 236.4h12M976.0 229.4v14M899.9 224.7h12M905.9 217.7v14M837.2 219.9h12M843.2 212.9v14M857.8 220.3h12M863.8 213.3v14M898.4 224.5h12M904.4 217.5v14M946.7 231.7h12M952.7 224.7v14M983.9 238.4h12M989.9 231.4v14M899.9 224.7h12M905.9 217.7v14M1047.9 238.4h12M1053.9 231.4v14M1046.3 238.4h12M1052.3 231.4v14M1044.7 238.4h12M1050.7 231.4v14M1044.1 238.4h12M1050.1 231.4v14M1045.2 238.4h12M1051.2 231.4v14M1047.0 238.4h12M1053.0 231.4v14M1044.6 238.4h12M1050.6 231.4v14M1046.9 238.4h12M1052.9 231.4v14M1053.0 250.8h12M1059.0 243.8v14M1056.3 250.8h12M1062.3 243.8v14M1067.3 250.8h12M1073.3 243.8v14M1072.8 250.8h12M1078.8 243.8v14M1078.3 250.8h12M1084.3 243.8v14M1084.9 250.8h12M1090.9 243.8v14M1087.1 250.8h12M1093.1 243.8v14M1089.3 250.8h12M1095.3 243.8v14M1091.5 250.8h12M1097.5 243.8v14M1093.7 250.8h12M1099.7 243.8v14M1095.9 250.8h12M1101.9 243.8v14M1102.5 250.8h12M1108.5 243.8v14M1110.2 250.8h12M1116.2 243.8v14M1113.5 250.8h12M1119.5 243.8v14M1117.9 250.8h12M1123.9 243.8v14M1127.8 250.8h12M1133.8 243.8v14M1148.7 250.8h12M1154.7 243.8v14M1163.0 250.8h12M1169.0 243.8v14M1203.7 250.8h12M1209.7 243.8v14M1262.1 250.8h12M1268.1 243.8v14" stroke="#111" stroke-width="1.6" fill="none"/>
<path d="M710.5 91.7 L714.0 91.7 L714.0 94.4 L717.5 94.4 L717.5 97.1 L720.9 97.1 L720.9 99.8 L724.4 99.8 L724.4 102.8 L727.9 102.8 L727.9 106.7 L731.4 106.7 L731.4 110.6 L734.9 110.6 L734.9 117.1 L738.3 117.1 L738.3 126.3 L741.8 126.3 L741.8 132.7 L745.3 132.7 L745.3 137.6 L748.8 137.6 L748.8 142.8 L752.3 142.8 L752.3 149.2 L755.7 149.2 L755.7 158.1 L759.2 158.1 L759.2 169.3 L762.7 169.3 L762.7 176.7 L766.2 176.7 L766.2 180.1 L769.7 180.1 L769.7 183.6 L773.1 183.6 L773.1 186.0 L776.6 186.0 L776.6 187.6 L780.1 187.6 L780.1 189.3 L783.6 189.3 L783.6 191.0 L787.1 191.0 L787.1 192.7 L790.5 192.7 L790.5 194.5 L794.0 194.5 L794.0 196.2 L797.5 196.2 L797.5 197.9 L801.0 197.9 L801.0 200.0 L804.5 200.0 L804.5 202.5 L807.9 202.5 L807.9 205.1 L811.4 205.1 L811.4 207.7 L814.9 207.7 L814.9 210.3 L818.4 210.3 L818.4 212.9 L821.9 212.9 L821.9 214.8 L825.3 214.8 L825.3 216.7 L828.8 216.7 L828.8 218.3 L832.3 218.3 L832.3 218.7 L835.8 218.7 L835.8 219.2 L839.3 219.2 L839.3 219.7 L842.7 219.7 L842.7 219.9 L846.2 219.9 L846.2 220.0 L849.7 220.0 L849.7 220.0 L853.2 220.0 L853.2 220.1 L856.7 220.1 L856.7 220.2 L860.1 220.2 L860.1 220.2 L863.6 220.2 L863.6 220.3 L867.1 220.3 L867.1 220.4 L870.6 220.4 L870.6 220.5 L874.1 220.5 L874.1 220.9 L877.5 220.9 L877.5 221.3 L881.0 221.3 L881.0 221.8 L884.5 221.8 L884.5 222.2 L888.0 222.2 L888.0 222.6 L891.5 222.6 L891.5 223.0 L894.9 223.0 L894.9 223.4 L898.4 223.4 L898.4 223.8 L901.9 223.8 L901.9 224.2 L905.4 224.2 L905.4 224.6 L908.9 224.6 L908.9 225.0 L912.3 225.0 L912.3 225.4 L915.8 225.4 L915.8 225.8 L919.3 225.8 L919.3 226.2 L922.8 226.2 L922.8 226.8 L926.3 226.8 L926.3 227.4 L929.7 227.4 L929.7 227.9 L933.2 227.9 L933.2 228.5 L936.7 228.5 L936.7 229.1 L940.2 229.1 L940.2 229.6 L943.7 229.6 L943.7 230.2 L947.1 230.2 L947.1 230.8 L950.6 230.8 L950.6 231.4 L954.1 231.4 L954.1 232.0 L957.6 232.0 L957.6 232.6 L961.1 232.6 L961.1 233.1 L964.5 233.1 L964.5 233.7 L968.0 233.7 L968.0 234.5 L971.5 234.5 L971.5 235.3 L975.0 235.3 L975.0 236.1 L978.5 236.1 L978.5 237.0 L981.9 237.0 L981.9 237.8 L985.4 237.8 L985.4 238.4 L988.9 238.4 L988.9 238.4 L992.4 238.4 L992.4 238.4 L995.9 238.4 L995.9 238.4 L999.3 238.4 L999.3 238.4 L1002.8 238.4 L1002.8 238.4 L1006.3 238.4 L1006.3 238.4 L1009.8 238.4 L1009.8 238.4 L1013.3 238.4 L1013.3 238.4 L1016.7 238.4 L1016.7 238.4 L1020.2 238.4 L1020.2 238.4 L1023.7 238.4 L1023.7 238.4 L1027.2 238.4 L1027.2 238.4 L1030.7 238.4 L1030.7 238.4 L1034.1 238.4 L1034.1 238.4 L1037.6 238.4 L1037.6 238.4 L1041.1 238.4 L1041.1 238.4 L1044.6 238.4 L1044.6 238.4 L1048.1 238.4 L1048.1 238.4 L1051.5 238.4 L1051.5 238.4 L1055.0 238.4 L1055.0 238.4 L1058.5 238.4 L1058.5 250.8 L1062.0 250.8 L1062.0 250.8 L1065.5 250.8 L1065.5 250.8 L1068.9 250.8 L1068.9 250.8 L1072.4 250.8 L1072.4 250.8 L1075.9 250.8 L1075.9 250.8 L1079.4 250.8 L1079.4 250.8 L1082.9 250.8 L1082.9 250.8 L1086.3 250.8 L1086.3 250.8 L1089.8 250.8 L1089.8 250.8 L1093.3 250.8 L1093.3 250.8 L1096.8 250.8 L1096.8 250.8 L1100.3 250.8 L1100.3 250.8 L1103.7 250.8 L1103.7 250.8 L1107.2 250.8 L1107.2 250.8 L1110.7 250.8 L1110.7 250.8 L1114.2 250.8 L1114.2 250.8 L1117.7 250.8 L1117.7 250.8 L1121.1 250.8 L1121.1 250.8 L1124.6 250.8 L1124.6 250.8 L1128.1 250.8 L1128.1 250.8 L1131.6 250.8 L1131.6 250.8 L1135.1 250.8 L1135.1 250.8 L1138.5 250.8 L1138.5 250.8 L1142.0 250.8 L1142.0 250.8 L1145.5 250.8 L1145.5 250.8 L1149.0 250.8 L1149.0 250.8 L1152.5 250.8 L1152.5 250.8 L1155.9 250.8 L1155.9 250.8 L1159.4 250.8 L1159.4 250.8 L1162.9 250.8 L1162.9 250.8 L1166.4 250.8 L1166.4 250.8 L1169.9 250.8 L1169.9 250.8 L1173.3 250.8 L1173.3 250.8 L1176.8 250.8 L1176.8 250.8 L1180.3 250.8 L1180.3 250.8 L1183.8 250.8 L1183.8 250.8 L1187.3 250.8 L1187.3 250.8 L1190.7 250.8 L1190.7 250.8 L1194.2 250.8 L1194.2 250.8 L1197.7 250.8 L1197.7 250.8 L1201.2 250.8 L1201.2 250.8 L1204.7 250.8 L1204.7 250.8 L1208.1 250.8 L1208.1 250.8 L1211.6 250.8 L1211.6 250.8 L1215.1 250.8 L1215.1 250.8 L1218.6 250.8 L1218.6 250.8 L1222.1 250.8 L1222.1 250.8 L1225.5 250.8 L1225.5 250.8 L1229.0 250.8 L1229.0 250.8 L1232.5 250.8 L1232.5 250.8 L1236.0 250.8 L1236.0 250.8 L1239.5 250.8 L1239.5 250.8 L1242.9 250.8 L1242.9 250.8 L1246.4 250.8 L1246.4 250.8 L1249.9 250.8 L1249.9 250.8 L1253.4 250.8 L1253.4 250.8 L1256.9 250.8 L1256.9 250.8 L1260.3 250.8 L1260.3 250.8 L1263.8 250.8 L1263.8 250.8 L1267.3 250.8 L1267.3 250.8 L1270.8 250.8 L1270.8 250.8 L1273.1 250.8 L1273.1 250.8" stroke="#000" stroke-width="2" fill="none"/>
<path d="M758.0 177.4h12M764.0 170.4v14M732.9 143.8h12M738.9 136.8v14M766.7 187.6h12M772.7 180.6v14M785.1 223.6h12M791.1 216.6v14M712.8 107.9h12M718.8 100.9v14M753.8 173.3h12M759.8 166.3v14M753.9 173.4h12M759.9 166.4v14M806.5 238.5h12M812.5 231.5v14M813.1 241.7h12M819.1 234.7v14M747.9 166.4h12M753.9 159.4v14M808.7 239.5h12M814.7 232.5v14M796.2 231.7h12M802.2 224.7v14M734.9 147.8h12M740.9 140.8v14M758.3 177.8h12M764.3 170.8v14M718.8 115.6h12M724.8 108.6v14M798.8 233.6h12M804.8 226.6v14M781.3 217.3h12M787.3 210.3v14M807.4 238.9h12M813.4 231.9v14M796.4 231.8h12M802.4 224.8v14M781.9 218.5h12M787.9 211.5v14M789.6 226.8h12M795.6 219.8v14M769.9 194.0h12M775.9 187.0v14M716.5 111.0h12M722.5 104.0v14M772.7 199.6h12M778.7 192.6v14M705.1 102.3h12M711.1 95.3v14M721.1 120.3h12M727.1 113.3v14M794.3 230.3h12M800.3 223.3v14M709.6 105.6h12M715.6 98.6v14M715.1 109.6h12M721.1 102.6v14M716.0 110.2h12M722.0 103.2v14M806.6 238.5h12M812.6 231.5v14M725.3 128.6h12M731.3 121.6v14M707.2 103.8h12M713.2 96.8v14M802.1 236.0h12M808.1 229.0v14M718.6 115.2h12M724.6 108.2v14M802.4 236.2h12M808.4 229.2v14M782.6 220.0h12M788.6 213.0v14M801.5 235.6h12M807.5 228.6v14M815.0 242.7h12M821.0 235.7v14M771.7 197.6h12M777.7 190.6v14M797.2 232.4h12M803.2 225.4v14M708.7 104.9h12M714.7 97.9v14M793.5 229.7h12M799.5 222.7v14M763.8 183.2h12M769.8 176.2v14M787.5 225.3h12M793.5 218.3v14M716.9 111.8h12M722.9 104.8v14M791.4 228.1h12M797.4 221.1v14M812.9 241.6h12M818.9 234.6v14M711.6 107.0h12M717.6 100.0v14M742.1 158.6h12M748.1 151.6v14M769.9 194.1h12M775.9 187.1v14M800.6 234.9h12M806.6 227.9v14M732.6 143.1h12M738.6 136.1v14M725.4 128.7h12M731.4 121.7v14M733.5 144.9h12M739.5 137.9v14M776.0 206.2h12M782.0 199.2v14M791.9 228.5h12M797.9 221.5v14M750.2 169.4h12M756.2 162.4v14M747.1 165.4h12M753.1 158.4v14M750.5 169.9h12M756.5 162.9v14M745.1 162.7h12M751.1 155.7v14M753.0 172.5h12M759.0 165.5v14M714.2 108.9h12M720.2 101.9v14M762.5 181.9h12M768.5 174.9v14M817.4 243.9h12M823.4 236.9v14M752.4 171.9h12M758.4 164.9v14M791.2 228.0h12M797.2 221.0v14M723.1 124.3h12M729.1 117.3v14M784.6 223.2h12M790.6 216.2v14M792.2 228.7h12M798.2 221.7v14M922.1 277.9h12M928.1 270.9v14M898.5 273.4h12M904.5 266.4v14M893.4 272.6h12M899.4 265.6v14M917.5 277.0h12M923.5 270.0v14M955.8 286.2h12M961.8 279.2v14M843.0 261.5h12M849.0 254.5v14M835.0 256.2h12M841.0 249.2v14M933.3 280.5h12M939.3 273.5v14M958.7 286.3h12M964.7 279.3v14M898.5 273.4h12M904.5 266.4v14M887.3 271.7h12M893.3 264.7v14M928.9 279.3h12M934.9 272.3v14M848.6 263.3h12M854.6 256.3v14M860.8 267.2h12M866.8 260.2v14M850.5 263.9h12M856.5 256.9v14M908.8 275.2h12M914.8 268.2v14M868.0 268.8h12M874.0 261.8v14M855.5 265.5h12M861.5 258.5v14M924.7 278.4h12M930.7 271.4v14M964.3 286.4h12M970.3 279.4v14M865.1 268.4h12M871.1 261.4v14M926.9 278.8h12M932.9 271.8v14M882.8 271.0h12M888.8 264.0v14M949.2 286.0h12M955.2 279.0v14M908.7 275.2h12M914.7 268.2v14M860.8 267.2h12M866.8 260.2v14M853.3 264.8h12M859.3 257.8v14M824.0 247.6h12M830.0 240.6v14M892.8 272.5h12M898.8 265.5v14M878.2 270.3h12M884.2 263.3v14M846.5 262.6h12M852.5 255.6v14M874.9 269.8h12M880.9 262.8v14M869.1 269.0h12M875.1 262.0v14M937.3 283.8h12M943.3 276.8v14M842.2 261.2h12M848.2 254.2v14M970.0 286.6h12M976.0 279.6v14M892.8 272.5h12M898.8 265.5v14M910.8 275.7h12M916.8 268.7v14M891.1 272.2h12M897.1 265.2v14M946.4 285.9h12M952.4 278.9v14M944.4 285.8h12M950.4 278.8v14M904.5 274.4h12M910.5 267.4v14M893.1 272.5h12M899.1 265.5v14M929.2 279.3h12M935.2 272.3v14M949.7 286.0h12M955.7 279.0v14M880.9 270.7h12M886.9 263.7v14M931.1 279.7h12M937.1 272.7v14M965.3 286.5h12M971.3 279.5v14M891.0 272.2h12M897.0 265.2v14M855.1 265.4h12M861.1 258.4v14M855.9 265.6h12M861.9 258.6v14M928.7 279.2h12M934.7 272.2v14M922.3 277.9h12M928.3 270.9v14M965.1 286.5h12M971.1 279.5v14M949.3 286.0h12M955.3 279.0v14M857.0 266.0h12M863.0 259.0v14M849.1 263.5h12M855.1 256.5v14M859.5 266.8h12M865.5 259.8v14M848.7 263.3h12M854.7 256.3v14M926.8 278.8h12M932.8 271.8v14M950.0 286.0h12M956.0 279.0v14M956.2 286.2h12M962.2 279.2v14M859.0 266.6h12M865.0 259.6v14M951.0 286.0h12M957.0 279.0v14M867.8 268.8h12M873.8 261.8v14M884.3 271.2h12M890.3 264.2v14M930.4 279.6h12M936.4 272.6v14M833.5 255.0h12M839.5 248.0v14M834.5 255.8h12M840.5 248.8v14M946.3 285.9h12M952.3 278.9v14M864.5 268.3h12M870.5 261.3v14M874.3 269.7h12M880.3 262.7v14M908.0 275.1h12M914.0 268.1v14M922.4 277.9h12M928.4 270.9v14M821.5 245.9h12M827.5 238.9v14M871.0 269.3h12M877.0 262.3v14M886.3 271.5h12M892.3 264.5v14M893.8 272.7h12M899.8 265.7v14M852.2 264.4h12M858.2 257.4v14M908.7 275.2h12M914.7 268.2v14M964.6 286.4h12M970.6 279.4v14M879.5 270.5h12M885.5 263.5v14M902.6 274.0h12M908.6 267.0v14M838.5 258.9h12M844.5 251.9v14M861.9 267.6h12M867.9 260.6v14M920.8 277.6h12M926.8 270.6v14M837.5 258.1h12M843.5 251.1v14M954.3 286.1h12M960.3 279.1v14M957.5 286.2h12M963.5 279.2v14M835.1 256.3h12M841.1 249.3v14M962.4 286.4h12M968.4 279.4v14M876.9 270.1h12M882.9 263.1v14M937.0 283.6h12M943.0 276.6v14M934.7 281.7h12M940.7 274.7v14M865.1 268.4h12M871.1 261.4v14M922.4 278.0h12M928.4 271.0v14M919.1 277.3h12M925.1 270.3v14M942.1 285.7h12M948.1 278.7v14M860.6 267.1h12M866.6 260.1v14M934.2 281.3h12M940.2 274.3v14M965.5 286.5h12M971.5 279.5v14M922.0 277.9h12M928.0 270.9v14M901.4 273.8h12M907.4 266.8v14M837.6 258.2h12M843.6 251.2v14M895.0 272.8h12M901.0 265.8v14M873.6 269.6h12M879.6 262.6v14M928.8 279.2h12M934.8 272.2v14M922.8 278.0h12M928.8 271.0v14M905.9 274.7h12M911.9 267.7v14M847.9 263.1h12M853.9 256.1v14M917.9 277.1h12M923.9 270.1v14M915.6 276.6h12M921.6 269.6v14M847.5 263.0h12M853.5 256.0v14M954.7 286.1h12M960.7 279.1v14M919.3 277.3h12M925.3 270.3v14M839.1 259.3h12M845.1 252.3v14M961.0 286.3h12M967.0 279.3v14M841.8 261.1h12M847.8 254.1v14M870.5 269.2h12M876.5 262.2v14M929.1 279.3h12M935.1 272.3v14M910.6 275.6h12M916.6 268.6v14M904.2 274.3h12M910.2 267.3v14M918.1 277.1h12M924.1 270.1v14M889.5 272.0h12M895.5 265.0v14M867.6 268.8h12M873.6 261.8v14M847.1 262.8h12M853.1 255.8v14M830.8 253.0h12M836.8 246.0v14M928.4 279.2h12M934.4 272.2v14M934.3 281.3h12M940.3 274.3v14M902.4 274.0h12M908.4 267.0v14M932.0 279.9h12M938.0 272.9v14M874.7 269.8h12M880.7 262.8v14M860.6 267.1h12M866.6 260.1v14M878.3 270.3h12M884.3 263.3v14M952.1 286.0h12M958.1 279.0v14M826.9 249.9h12M832.9 242.9v14M896.6 273.1h12M902.6 266.1v14M857.8 266.2h12M863.8 259.2v14M936.5 283.1h12M942.5 276.1v14M873.9 269.7h12M879.9 262.7v14M870.7 269.2h12M876.7 262.2v14M881.3 270.8h12M887.3 263.8v14M902.2 273.9h12M908.2 266.9v14M936.9 283.5h12M942.9 276.5v14M873.7 269.7h12M879.7 262.7v14M948.2 285.9h12M954.2 278.9v14M837.4 258.1h12M843.4 251.1v14M861.3 267.3h12M867.3 260.3v14M835.5 256.6h12M841.5 249.6v14M837.5 258.1h12M843.5 251.1v14M938.0 284.4h12M944.0 277.4v14M930.2 279.5h12M936.2 272.5v14M848.4 263.2h12M854.4 256.2v14M849.0 263.4h12M855.0 256.4v14M883.3 271.1h12M889.3 264.1v14M932.6 280.0h12M938.6 273.0v14M943.5 285.8h12M949.5 278.8v14M933.4 280.6h12M939.4 273.6v14M909.8 275.4h12M915.8 268.4v14M842.6 261.4h12M848.6 254.4v14M880.6 270.7h12M886.6 263.7v14M849.7 263.7h12M855.7 256.7v14M900.1 273.6h12M906.1 266.6v14M906.2 274.7h12M912.2 267.7v14M851.0 264.1h12M857.0 257.1v14M858.2 266.4h12M864.2 259.4v14M938.4 284.8h12M944.4 277.8v14M825.0 248.5h12M831.0 241.5v14M941.6 285.7h12M947.6 278.7v14M954.9 286.1h12M960.9 279.1v14M963.7 286.4h12M969.7 279.4v14M878.3 270.3h12M884.3 263.3v14M903.8 274.3h12M909.8 267.3v14M908.4 275.2h12M914.4 268.2v14M916.1 276.7h12M922.1 269.7v14M967.8 286.6h12M973.8 279.6v14M924.0 278.3h12M930.0 271.3v14M865.7 268.5h12M871.7 261.5v14M950.2 286.0h12M956.2 279.0v14M893.5 272.6h12M899.5 265.6v14M977.0 293.3h12M983.0 286.3v14M980.0 293.5h12M986.0 286.5v14M983.0 293.5h12M989.0 286.5v14M986.0 293.5h12M992.0 286.5v14M989.0 293.5h12M995.0 286.5v14M992.0 293.5h12M998.0 286.5v14M995.0 293.5h12M1001.0 286.5v14M997.0 293.5h12M1003.0 286.5v14M1003.4 293.5h12M1009.4 286.5v14M1006.7 293.5h12M1012.7 286.5v14M1010.0 293.5h12M1016.0 286.5v14M1013.3 293.5h12M1019.3 286.5v14M1021.0 293.5h12M1027.0 286.5v14M1031.0 293.5h12M1037.0 286.5v14M1042.0 293.5h12M1048.0 286.5v14M1044.0 293.5h12M1050.0 286.5v14M1046.0 293.5h12M1052.0 286.5v14M1048.0 293.5h12M1054.0 286.5v14M1050.0 293.5h12M1056.0 286.5v14M1052.0 293.5h12M1058.0 286.5v14M1060.7 293.5h12M1066.7 286.5v14M1067.3 293.5h12M1073.3 286.5v14M1072.8 293.5h12M1078.8 286.5v14M1081.6 293.5h12M1087.6 286.5v14M1084.9 293.5h12M1090.9 286.5v14M1088.2 293.5h12M1094.2 286.5v14M1092.6 293.5h12M1098.6 286.5v14M1111.3 293.5h12M1117.3 286.5v14M1122.3 293.5h12M1128.3 286.5v14M1126.7 293.5h12M1132.7 286.5v14M1131.1 293.5h12M1137.1 286.5v14M1150.9 293.5h12M1156.9 286.5v14M1178.4 293.5h12M1184.4 286.5v14M1191.6 293.5h12M1197.6 286.5v14M1235.7 293.5h12M1241.7 286.5v14M1287.4 293.5h12M1293.4 286.5v14" stroke="#e05c77" stroke-width="1.6" fill="none"/>
<path d="M710.5 101.9 L714.0 101.9 L714.0 104.4 L717.5 104.4 L717.5 106.9 L720.9 106.9 L720.9 109.4 L724.4 109.4 L724.4 114.9 L727.9 114.9 L727.9 121.8 L731.4 121.8 L731.4 128.7 L734.9 128.7 L734.9 135.7 L738.3 135.7 L738.3 142.6 L741.8 142.6 L741.8 149.6 L745.3 149.6 L745.3 154.8 L748.8 154.8 L748.8 159.5 L752.3 159.5 L752.3 164.2 L755.7 164.2 L755.7 168.9 L759.2 168.9 L759.2 172.7 L762.7 172.7 L762.7 176.2 L766.2 176.2 L766.2 179.6 L769.7 179.6 L769.7 183.0 L773.1 183.0 L773.1 188.5 L776.6 188.5 L776.6 195.5 L780.1 195.5 L780.1 202.4 L783.6 202.4 L783.6 209.6 L787.1 209.6 L787.1 216.7 L790.5 216.7 L790.5 223.1 L794.0 223.1 L794.0 225.7 L797.5 225.7 L797.5 228.2 L801.0 228.2 L801.0 230.8 L804.5 230.8 L804.5 233.3 L807.9 233.3 L807.9 235.9 L811.4 235.9 L811.4 237.9 L814.9 237.9 L814.9 239.6 L818.4 239.6 L818.4 241.4 L821.9 241.4 L821.9 243.1 L825.3 243.1 L825.3 244.8 L828.8 244.8 L828.8 246.7 L832.3 246.7 L832.3 249.4 L835.8 249.4 L835.8 252.1 L839.3 252.1 L839.3 254.8 L842.7 254.8 L842.7 257.5 L846.2 257.5 L846.2 260.2 L849.7 260.2 L849.7 261.7 L853.2 261.7 L853.2 262.8 L856.7 262.8 L856.7 264.0 L860.1 264.0 L860.1 265.1 L863.6 265.1 L863.6 266.2 L867.1 266.2 L867.1 267.3 L870.6 267.3 L870.6 268.3 L874.1 268.3 L874.1 268.8 L877.5 268.8 L877.5 269.3 L881.0 269.3 L881.0 269.9 L884.5 269.9 L884.5 270.4 L888.0 270.4 L888.0 270.9 L891.5 270.9 L891.5 271.4 L894.9 271.4 L894.9 271.9 L898.4 271.9 L898.4 272.4 L901.9 272.4 L901.9 273.0 L905.4 273.0 L905.4 273.5 L908.9 273.5 L908.9 274.1 L912.3 274.1 L912.3 274.8 L915.8 274.8 L915.8 275.4 L919.3 275.4 L919.3 276.1 L922.8 276.1 L922.8 276.8 L926.3 276.8 L926.3 277.5 L929.7 277.5 L929.7 278.2 L933.2 278.2 L933.2 278.9 L936.7 278.9 L936.7 279.6 L940.2 279.6 L940.2 281.2 L943.7 281.2 L943.7 284.2 L947.1 284.2 L947.1 285.7 L950.6 285.7 L950.6 285.8 L954.1 285.8 L954.1 285.9 L957.6 285.9 L957.6 286.0 L961.1 286.0 L961.1 286.1 L964.5 286.1 L964.5 286.3 L968.0 286.3 L968.0 286.4 L971.5 286.4 L971.5 286.5 L975.0 286.5 L975.0 286.6 L978.5 286.6 L978.5 286.7 L981.9 286.7 L981.9 290.8 L985.4 290.8 L985.4 293.5 L988.9 293.5 L988.9 293.5 L992.4 293.5 L992.4 293.5 L995.9 293.5 L995.9 293.5 L999.3 293.5 L999.3 293.5 L1002.8 293.5 L1002.8 293.5 L1006.3 293.5 L1006.3 293.5 L1009.8 293.5 L1009.8 293.5 L1013.3 293.5 L1013.3 293.5 L1016.7 293.5 L1016.7 293.5 L1020.2 293.5 L1020.2 293.5 L1023.7 293.5 L1023.7 293.5 L1027.2 293.5 L1027.2 293.5 L1030.7 293.5 L1030.7 293.5 L1034.1 293.5 L1034.1 293.5 L1037.6 293.5 L1037.6 293.5 L1041.1 293.5 L1041.1 293.5 L1044.6 293.5 L1044.6 293.5 L1048.1 293.5 L1048.1 293.5 L1051.5 293.5 L1051.5 293.5 L1055.0 293.5 L1055.0 293.5 L1058.5 293.5 L1058.5 293.5 L1062.0 293.5 L1062.0 293.5 L1065.5 293.5 L1065.5 293.5 L1068.9 293.5 L1068.9 293.5 L1072.4 293.5 L1072.4 293.5 L1075.9 293.5 L1075.9 293.5 L1079.4 293.5 L1079.4 293.5 L1082.9 293.5 L1082.9 293.5 L1086.3 293.5 L1086.3 293.5 L1089.8 293.5 L1089.8 293.5 L1093.3 293.5 L1093.3 293.5 L1096.8 293.5 L1096.8 293.5 L1100.3 293.5 L1100.3 293.5 L1103.7 293.5 L1103.7 293.5 L1107.2 293.5 L1107.2 293.5 L1110.7 293.5 L1110.7 293.5 L1114.2 293.5 L1114.2 293.5 L1117.7 293.5 L1117.7 293.5 L1121.1 293.5 L1121.1 293.5 L1124.6 293.5 L1124.6 293.5 L1128.1 293.5 L1128.1 293.5 L1131.6 293.5 L1131.6 293.5 L1135.1 293.5 L1135.1 293.5 L1138.5 293.5 L1138.5 293.5 L1142.0 293.5 L1142.0 293.5 L1145.5 293.5 L1145.5 293.5 L1149.0 293.5 L1149.0 293.5 L1152.5 293.5 L1152.5 293.5 L1155.9 293.5 L1155.9 293.5 L1159.4 293.5 L1159.4 293.5 L1162.9 293.5 L1162.9 293.5 L1166.4 293.5 L1166.4 293.5 L1169.9 293.5 L1169.9 293.5 L1173.3 293.5 L1173.3 293.5 L1176.8 293.5 L1176.8 293.5 L1180.3 293.5 L1180.3 293.5 L1183.8 293.5 L1183.8 293.5 L1187.3 293.5 L1187.3 293.5 L1190.7 293.5 L1190.7 293.5 L1194.2 293.5 L1194.2 293.5 L1197.7 293.5 L1197.7 293.5 L1201.2 293.5 L1201.2 293.5 L1204.7 293.5 L1204.7 293.5 L1208.1 293.5 L1208.1 293.5 L1211.6 293.5 L1211.6 293.5 L1215.1 293.5 L1215.1 293.5 L1218.6 293.5 L1218.6 293.5 L1222.1 293.5 L1222.1 293.5 L1225.5 293.5 L1225.5 293.5 L1229.0 293.5 L1229.0 293.5 L1232.5 293.5 L1232.5 293.5 L1236.0 293.5 L1236.0 293.5 L1239.5 293.5 L1239.5 293.5 L1242.9 293.5 L1242.9 293.5 L1246.4 293.5 L1246.4 293.5 L1249.9 293.5 L1249.9 293.5 L1253.4 293.5 L1253.4 293.5 L1256.9 293.5 L1256.9 293.5 L1260.3 293.5 L1260.3 293.5 L1263.8 293.5 L1263.8 293.5 L1267.3 293.5 L1267.3 293.5 L1270.8 293.5 L1270.8 293.5 L1274.3 293.5 L1274.3 293.5 L1277.7 293.5 L1277.7 293.5 L1281.2 293.5 L1281.2 293.5 L1284.7 293.5 L1284.7 293.5 L1288.2 293.5 L1288.2 293.5 L1291.7 293.5 L1291.7 293.5 L1295.1 293.5 L1295.1 293.5 L1298.6 293.5 L1298.6 293.5 L1299.2 293.5 L1299.2 293.5" stroke="#df536b" stroke-width="2" fill="none"/>
<text x="1472.0" y="53.0" font-size="75.0" font-weight="bold">C</text>
<text x="1472.0" y="97.0" font-size="28.5" font-weight="bold">siRNA:</text>
<rect x="1562.5" y="118.2" width="301.3" height="74.5" fill="#0b0b0b"/>
<rect x="1562.5" y="202.9" width="301.3" height="74.6" fill="#0b0b0b"/>
<path d="M1591.2 132.0 V162.0 Q1591.2 171.0 1600.2 171.0 H1633.0 Q1642.0 171.0 1642.0 162.0 V132.0 Z" fill="url(#bg1)" filter="url(#blur2)"/><path d="M1593.2 143.7 V161.0 Q1594.2 168.0 1602.2 168.0 M1631.0 168.0 Q1639.0 168.0 1640.0 161.0 V143.7" fill="none" stroke="rgb(99,99,99)" stroke-width="3" stroke-opacity="0.8" filter="url(#blur2)"/>
<path d="M1655.0 132.0 V162.0 Q1655.0 171.0 1664.0 171.0 H1696.0 Q1705.0 171.0 1705.0 162.0 V132.0 Z" fill="url(#bg2)" filter="url(#blur2)"/><path d="M1657.0 143.7 V161.0 Q1658.0 168.0 1666.0 168.0 M1694.0 168.0 Q1702.0 168.0 1703.0 161.0 V143.7" fill="none" stroke="rgb(89,89,89)" stroke-width="3" stroke-opacity="0.8" filter="url(#blur2)"/>
<path d="M1719.7 132.0 V162.0 Q1719.7 171.0 1728.7 171.0 H1761.0 Q1770.0 171.0 1770.0 162.0 V132.0 Z" fill="url(#bg3)" filter="url(#blur2)"/><path d="M1721.7 143.7 V161.0 Q1722.7 168.0 1730.7 168.0 M1759.0 168.0 Q1767.0 168.0 1768.0 161.0 V143.7" fill="none" stroke="rgb(58,58,58)" stroke-width="3" stroke-opacity="0.8" filter="url(#blur2)"/>
<path d="M1783.5 132.0 V162.0 Q1783.5 171.0 1792.5 171.0 H1823.0 Q1832.0 171.0 1832.0 162.0 V132.0 Z" fill="url(#bg4)" filter="url(#blur2)"/><path d="M1785.5 143.7 V161.0 Q1786.5 168.0 1794.5 168.0 M1821.0 168.0 Q1829.0 168.0 1830.0 161.0 V143.7" fill="none" stroke="rgb(47,47,47)" stroke-width="3" stroke-opacity="0.8" filter="url(#blur2)"/>
<path d="M1595.0 230.0 V249.5 Q1595.0 258.5 1604.0 258.5 H1638.0 Q1647.0 258.5 1647.0 249.5 V230.0 Z" fill="url(#bg5)" filter="url(#blur2)"/><path d="M1597.0 238.6 V248.5 Q1598.0 255.5 1606.0 255.5 M1636.0 255.5 Q1644.0 255.5 1645.0 248.5 V238.6" fill="none" stroke="rgb(147,147,147)" stroke-width="3" stroke-opacity="0.8" filter="url(#blur2)"/>
<path d="M1659.7 230.0 V249.5 Q1659.7 258.5 1668.7 258.5 H1702.0 Q1711.0 258.5 1711.0 249.5 V230.0 Z" fill="url(#bg6)" filter="url(#blur2)"/><path d="M1661.7 238.6 V248.5 Q1662.7 255.5 1670.7 255.5 M1700.0 255.5 Q1708.0 255.5 1709.0 248.5 V238.6" fill="none" stroke="rgb(148,148,148)" stroke-width="3" stroke-opacity="0.8" filter="url(#blur2)"/>
<path d="M1725.4 230.0 V249.5 Q1725.4 258.5 1734.4 258.5 H1766.0 Q1775.0 258.5 1775.0 249.5 V230.0 Z" fill="url(#bg7)" filter="url(#blur2)"/><path d="M1727.4 238.6 V248.5 Q1728.4 255.5 1736.4 255.5 M1764.0 255.5 Q1772.0 255.5 1773.0 248.5 V238.6" fill="none" stroke="rgb(140,140,140)" stroke-width="3" stroke-opacity="0.8" filter="url(#blur2)"/>
<path d="M1788.3 230.0 V249.5 Q1788.3 258.5 1797.3 258.5 H1828.0 Q1837.0 258.5 1837.0 249.5 V230.0 Z" fill="url(#bg8)" filter="url(#blur2)"/><path d="M1790.3 238.6 V248.5 Q1791.3 255.5 1799.3 255.5 M1826.0 255.5 Q1834.0 255.5 1835.0 248.5 V238.6" fill="none" stroke="rgb(138,138,138)" stroke-width="3" stroke-opacity="0.8" filter="url(#blur2)"/>
<defs><linearGradient id="bg1" x1="0" y1="0" x2="0" y2="1"><stop offset="0" stop-color="rgb(30,30,30)"/><stop offset="0.45" stop-color="rgb(50,50,50)"/><stop offset="0.72" stop-color="rgb(107,107,107)"/><stop offset="0.84" stop-color="rgb(215,215,215)"/><stop offset="0.95" stop-color="rgb(215,215,215)"/><stop offset="1" stop-color="rgb(161,161,161)"/></linearGradient><linearGradient id="bg2" x1="0" y1="0" x2="0" y2="1"><stop offset="0" stop-color="rgb(28,28,28)"/><stop offset="0.45" stop-color="rgb(48,48,48)"/><stop offset="0.72" stop-color="rgb(95,95,95)"/><stop offset="0.84" stop-color="rgb(185,185,185)"/><stop offset="0.95" stop-color="rgb(185,185,185)"/><stop offset="1" stop-color="rgb(138,138,138)"/></linearGradient><linearGradient id="bg3" x1="0" y1="0" x2="0" y2="1"><stop offset="0" stop-color="rgb(21,21,21)"/><stop offset="0.45" stop-color="rgb(36,36,36)"/><stop offset="0.72" stop-color="rgb(61,61,61)"/><stop offset="0.84" stop-color="rgb(110,110,110)"/><stop offset="0.95" stop-color="rgb(110,110,110)"/><stop offset="1" stop-color="rgb(82,82,82)"/></linearGradient><linearGradient id="bg4" x1="0" y1="0" x2="0" y2="1"><stop offset="0" stop-color="rgb(18,18,18)"/><stop offset="0.45" stop-color="rgb(30,30,30)"/><stop offset="0.72" stop-color="rgb(50,50,50)"/><stop offset="0.84" stop-color="rgb(88,88,88)"/><stop offset="0.95" stop-color="rgb(88,88,88)"/><stop offset="1" stop-color="rgb(66,66,66)"/></linearGradient><linearGradient id="bg5" x1="0" y1="0" x2="0" y2="1"><stop offset="0" stop-color="rgb(24,24,24)"/><stop offset="0.45" stop-color="rgb(40,40,40)"/><stop offset="0.72" stop-color="rgb(108,108,108)"/><stop offset="0.84" stop-color="rgb(235,235,235)"/><stop offset="0.95" stop-color="rgb(235,235,235)"/><stop offset="1" stop-color="rgb(176,176,176)"/></linearGradient><linearGradient id="bg6" x1="0" y1="0" x2="0" y2="1"><stop offset="0" stop-color="rgb(25,25,25)"/><stop offset="0.45" stop-color="rgb(42,42,42)"/><stop offset="0.72" stop-color="rgb(109,109,109)"/><stop offset="0.84" stop-color="rgb(235,235,235)"/><stop offset="0.95" stop-color="rgb(235,235,235)"/><stop offset="1" stop-color="rgb(176,176,176)"/></linearGradient><linearGradient id="bg7" x1="0" y1="0" x2="0" y2="1"><stop offset="0" stop-color="rgb(22,22,22)"/><stop offset="0.45" stop-color="rgb(38,38,38)"/><stop offset="0.72" stop-color="rgb(103,103,103)"/><stop offset="0.84" stop-color="rgb(225,225,225)"/><stop offset="0.95" stop-color="rgb(225,225,225)"/><stop offset="1" stop-color="rgb(168,168,168)"/></linearGradient><linearGradient id="bg8" x1="0" y1="0" x2="0" y2="1"><stop offset="0" stop-color="rgb(21,21,21)"/><stop offset="0.45" stop-color="rgb(36,36,36)"/><stop offset="0.72" stop-color="rgb(101,101,101)"/><stop offset="0.84" stop-color="rgb(222,222,222)"/><stop offset="0.95" stop-color="rgb(222,222,222)"/><stop offset="1" stop-color="rgb(166,166,166)"/></linearGradient></defs>
<text x="1506.0" y="151.7" font-size="28.5" font-weight="bold" text-anchor="middle">Human</text>
<text x="1504.0" y="185.8" font-size="28.5" font-weight="bold" font-style="italic" text-anchor="middle">GAPDH</text>
<text x="1511.0" y="231.0" font-size="28.5" font-weight="bold" text-anchor="middle">Mouse</text>
<text x="1511.0" y="264.0" font-size="28.5" font-weight="bold" font-style="italic" text-anchor="middle">actb</text>
<text transform="translate(1613.0,116.0) rotate(-51)" font-size="28.5" font-weight="bold">Control</text>
<text transform="translate(1674.0,118.0) rotate(-51)" font-size="28.5" font-weight="bold">CDH17</text>
<text transform="translate(1733.0,119.0) rotate(-51)" font-size="28.5" font-weight="bold">SLC38A5</text>
<text transform="translate(1797.0,95.0) rotate(-51)" font-size="28.5" font-weight="bold">CDH17 +</text>
<text transform="translate(1818.0,119.0) rotate(-51)" font-size="28.5" font-weight="bold">SLC38A5</text>
<text x="1477.6" y="395.8" font-size="75.0" font-weight="bold">D</text>
<line x1="1624.7" y1="400.7" x2="1624.7" y2="692.3" stroke="#888" stroke-width="2.00"/>
<line x1="1616.0" y1="692.3" x2="1624.7" y2="692.3" stroke="#888" stroke-width="2.00"/>
<text x="1598.5" y="702.1" font-size="28.0" text-anchor="end">0</text>
<line x1="1616.0" y1="643.7" x2="1624.7" y2="643.7" stroke="#888" stroke-width="2.00"/>
<text x="1598.5" y="653.5" font-size="28.0" text-anchor="end">0.2</text>
<line x1="1616.0" y1="595.1" x2="1624.7" y2="595.1" stroke="#888" stroke-width="2.00"/>
<text x="1598.5" y="604.9" font-size="28.0" text-anchor="end">0.4</text>
<line x1="1616.0" y1="546.5" x2="1624.7" y2="546.5" stroke="#888" stroke-width="2.00"/>
<text x="1598.5" y="556.3" font-size="28.0" text-anchor="end">0.6</text>
<line x1="1616.0" y1="497.9" x2="1624.7" y2="497.9" stroke="#888" stroke-width="2.00"/>
<text x="1598.5" y="507.7" font-size="28.0" text-anchor="end">0.8</text>
<line x1="1616.0" y1="449.3" x2="1624.7" y2="449.3" stroke="#888" stroke-width="2.00"/>
<text x="1598.5" y="459.1" font-size="28.0" text-anchor="end">1</text>
<line x1="1616.0" y1="400.7" x2="1624.7" y2="400.7" stroke="#888" stroke-width="2.00"/>
<text x="1598.5" y="410.5" font-size="28.0" text-anchor="end">1.2</text>
<line x1="1647.8" y1="427.9" x2="1647.8" y2="449.3" stroke="#000" stroke-width="2.00"/>
<line x1="1637.3" y1="427.9" x2="1658.3" y2="427.9" stroke="#000" stroke-width="2.00"/>
<rect x="1636.5" y="451.0" width="22.8" height="241.2" fill="#f2f2f2" stroke="#000" stroke-width="3.50"/>
<line x1="1694.8" y1="492.6" x2="1694.8" y2="513.7" stroke="#000" stroke-width="2.00"/>
<line x1="1684.2" y1="492.6" x2="1705.2" y2="492.6" stroke="#000" stroke-width="2.00"/>
<rect x="1683.3" y="515.4" width="22.8" height="176.9" fill="#ee82ee" stroke="#000" stroke-width="3.50"/>
<line x1="1741.3" y1="537.0" x2="1741.3" y2="561.1" stroke="#000" stroke-width="2.00"/>
<line x1="1730.8" y1="537.0" x2="1751.8" y2="537.0" stroke="#000" stroke-width="2.00"/>
<rect x="1730.2" y="562.8" width="22.3" height="129.5" fill="#ffcc33" stroke="#000" stroke-width="3.50"/>
<line x1="1788.2" y1="606.8" x2="1788.2" y2="617.0" stroke="#000" stroke-width="2.00"/>
<line x1="1777.8" y1="606.8" x2="1798.8" y2="606.8" stroke="#000" stroke-width="2.00"/>
<rect x="1777.0" y="618.7" width="22.4" height="73.6" fill="#e6b09c" stroke="#000" stroke-width="3.50"/>
<line x1="1610.2" y1="692.3" x2="1801.2" y2="692.3" stroke="#000" stroke-width="3.00"/>
<text x="1740.6" y="537.0" font-size="32.0" text-anchor="middle">*</text>
<text x="1787.0" y="601.0" font-size="32.0" text-anchor="middle">**</text>
<text transform="translate(1516.5,551.0) rotate(-90)" font-size="28.5" font-weight="bold" text-anchor="middle">h-GAPDH relative</text>
<text transform="translate(1545.5,551.0) rotate(-90)" font-size="28.5" font-weight="bold" text-anchor="middle">expression</text>
<text x="1486.0" y="737.0" font-size="28.5" font-weight="bold">siRNA:</text>
<text transform="translate(1644.0,713.0) rotate(-48)" font-size="28.5" font-weight="bold" text-anchor="end">Control</text>
<text transform="translate(1694.5,715.0) rotate(-48)" font-size="28.5" font-weight="bold" text-anchor="end">CDH17</text>
<text transform="translate(1745.5,712.0) rotate(-48)" font-size="28.5" font-weight="bold" text-anchor="end">SLC38A5</text>
<text transform="translate(1790.5,707.0) rotate(-48)" font-size="28.5" font-weight="bold" text-anchor="end">CDH17 +</text>
<text transform="translate(1814.5,725.0) rotate(-48)" font-size="28.5" font-weight="bold" text-anchor="end">SLC38A5</text>
<text x="-5.2" y="938.8" font-size="75.0" font-weight="bold">E</text>
<text x="543.0" y="930.6" font-size="39.0" font-weight="bold" text-anchor="middle">Control</text>
<text x="1423.5" y="930.2" font-size="39.0" font-weight="bold" text-anchor="middle">Amiloride</text>
<text x="66.8" y="1069.3" font-size="39.0">0</text>
<text x="68.5" y="1291.5" font-size="38.0">2</text>
<text x="68.5" y="1517.0" font-size="38.0">5</text>
<text transform="translate(42.5,1292.0) rotate(-90)" font-size="33.5" font-weight="bold" text-anchor="middle">Weeks after inoculation</text>
<g transform="translate(92.0,944.7)" clip-path="url(#tclip)"><rect width="116.8" height="216.5" fill="#2f2f2f"/><rect width="116.8" height="48" fill="url(#stripes)"/><use href="#mouse"/><g fill="#000" stroke="#000" stroke-width="3.2"><ellipse cx="38.4" cy="114.0" rx="13.0" ry="12.0"/></g><g fill="url(#gP)"><ellipse cx="38.4" cy="114.0" rx="13.0" ry="12.0"/></g></g>
<g transform="translate(221.1,944.7)" clip-path="url(#tclip)"><rect width="116.8" height="216.5" fill="#2f2f2f"/><rect width="116.8" height="48" fill="url(#stripes)"/><use href="#mouse" transform="translate(116.8,0) scale(-1,1)"/><g fill="#000" stroke="#000" stroke-width="3.2"><path d="M47.0 121.0 C46.7 119.3 55.8 117.8 60.0 116.0 C64.2 114.2 69.0 112.7 72.0 110.0 C75.0 107.3 76.0 103.0 78.0 100.0 C80.0 97.0 82.3 92.0 84.0 92.0 C85.7 92.0 87.7 96.7 88.0 100.0 C88.3 103.3 87.7 108.5 86.0 112.0 C84.3 115.5 82.0 118.7 78.0 121.0 C74.0 123.3 67.2 126.0 62.0 126.0 C56.8 126.0 47.3 122.7 47.0 121.0Z"/></g><g fill="url(#gP)"><path d="M47.0 121.0 C46.7 119.3 55.8 117.8 60.0 116.0 C64.2 114.2 69.0 112.7 72.0 110.0 C75.0 107.3 76.0 103.0 78.0 100.0 C80.0 97.0 82.3 92.0 84.0 92.0 C85.7 92.0 87.7 96.7 88.0 100.0 C88.3 103.3 87.7 108.5 86.0 112.0 C84.3 115.5 82.0 118.7 78.0 121.0 C74.0 123.3 67.2 126.0 62.0 126.0 C56.8 126.0 47.3 122.7 47.0 121.0Z"/></g></g>
<g transform="translate(350.5,944.7)" clip-path="url(#tclip)"><rect width="116.8" height="216.5" fill="#2f2f2f"/><rect width="116.8" height="48" fill="url(#stripes)"/><use href="#mouse"/><g fill="#000" stroke="#000" stroke-width="3.2"><ellipse cx="67.2" cy="121.4" rx="5.0" ry="5.0"/><ellipse cx="74.7" cy="110.8" rx="2.5" ry="2.5"/><ellipse cx="87.8" cy="94.7" rx="2.5" ry="2.5"/><ellipse cx="93.0" cy="102.3" rx="2.0" ry="2.0"/></g><g fill="url(#gP)"><ellipse cx="67.2" cy="121.4" rx="5.0" ry="5.0"/><ellipse cx="74.7" cy="110.8" rx="2.5" ry="2.5"/><ellipse cx="87.8" cy="94.7" rx="2.5" ry="2.5"/><ellipse cx="93.0" cy="102.3" rx="2.0" ry="2.0"/></g></g>
<g transform="translate(479.5,944.7)" clip-path="url(#tclip)"><rect width="116.8" height="216.5" fill="#2f2f2f"/><rect width="116.8" height="48" fill="url(#stripes)"/><use href="#mouse"/><g fill="#000" stroke="#000" stroke-width="3.2"><ellipse cx="35.3" cy="113.9" rx="14.0" ry="14.0"/><ellipse cx="48.9" cy="101.2" rx="8.0" ry="7.5"/><ellipse cx="71.9" cy="101.2" rx="2.0" ry="3.0"/></g><g fill="url(#gP)"><ellipse cx="35.3" cy="113.9" rx="14.0" ry="14.0"/><ellipse cx="48.9" cy="101.2" rx="8.0" ry="7.5"/><ellipse cx="71.9" cy="101.2" rx="2.0" ry="3.0"/></g></g>
<g transform="translate(608.5,944.7)" clip-path="url(#tclip)"><rect width="116.8" height="216.5" fill="#2f2f2f"/><rect width="116.8" height="48" fill="url(#stripes)"/><use href="#mouse" transform="translate(116.8,0) scale(-1,1)"/><g fill="#000" stroke="#000" stroke-width="3.2"><ellipse cx="30.0" cy="129.0" rx="12.0" ry="20.0"/><ellipse cx="46.0" cy="129.0" rx="9.0" ry="8.0"/><ellipse cx="65.0" cy="125.5" rx="12.5" ry="12.0"/></g><g fill="url(#gP)"><ellipse cx="30.0" cy="129.0" rx="12.0" ry="20.0"/><ellipse cx="46.0" cy="129.0" rx="9.0" ry="8.0"/><ellipse cx="65.0" cy="125.5" rx="12.5" ry="12.0"/></g></g>
<g transform="translate(737.7,944.7)" clip-path="url(#tclip)"><rect width="116.8" height="216.5" fill="#2f2f2f"/><rect width="116.8" height="48" fill="url(#stripes)"/><use href="#mouse"/><g fill="#000" stroke="#000" stroke-width="3.2"><rect x="29.4" y="96.4" width="58.0" height="33.7" rx="8.0"/></g><g fill="url(#gP)"><rect x="29.4" y="96.4" width="58.0" height="33.7" rx="8.0"/></g></g>
<g transform="translate(866.7,944.7)" clip-path="url(#tclip)"><rect width="116.8" height="216.5" fill="#2f2f2f"/><rect width="116.8" height="48" fill="url(#stripes)"/><use href="#mouse"/><g fill="#000" stroke="#000" stroke-width="3.2"><rect x="22.2" y="91.8" width="53.3" height="34.8" rx="9.0"/></g><g fill="url(#gP)"><rect x="22.2" y="91.8" width="53.3" height="34.8" rx="9.0"/></g></g>
<g transform="translate(1033.8,944.7)" clip-path="url(#tclip)"><rect width="116.8" height="216.5" fill="#2f2f2f"/><rect width="116.8" height="48" fill="url(#stripes)"/><use href="#mouse" transform="translate(116.8,0) scale(-1,1)"/><g fill="#000" stroke="#000" stroke-width="3.2"><ellipse cx="38.5" cy="110.0" rx="12.0" ry="17.0"/></g><g fill="url(#gP)"><ellipse cx="38.5" cy="110.0" rx="12.0" ry="17.0"/></g></g>
<g transform="translate(1164.9,944.7)" clip-path="url(#tclip)"><rect width="116.8" height="216.5" fill="#2f2f2f"/><rect width="116.8" height="48" fill="url(#stripes)"/><use href="#mouse"/><g fill="#000" stroke="#000" stroke-width="3.2"><ellipse cx="37.4" cy="122.0" rx="17.0" ry="14.0"/></g><g fill="url(#gP)"><ellipse cx="37.4" cy="122.0" rx="17.0" ry="14.0"/></g></g>
<g transform="translate(1293.8,944.7)" clip-path="url(#tclip)"><rect width="116.8" height="216.5" fill="#2f2f2f"/><rect width="116.8" height="48" fill="url(#stripes)"/><use href="#mouse"/><g fill="#000" stroke="#000" stroke-width="3.2"><ellipse cx="26.8" cy="97.7" rx="15.0" ry="10.0" transform="rotate(-30 26.8 97.7)"/></g><g fill="url(#gP)"><ellipse cx="26.8" cy="97.7" rx="15.0" ry="10.0" transform="rotate(-30 26.8 97.7)"/></g></g>
<g transform="translate(1423.3,944.7)" clip-path="url(#tclip)"><rect width="116.8" height="216.5" fill="#2f2f2f"/><rect width="116.8" height="48" fill="url(#stripes)"/><use href="#mouse" transform="translate(116.8,0) scale(-1,1)"/><g fill="#000" stroke="#000" stroke-width="3.2"><ellipse cx="39.0" cy="118.6" rx="19.0" ry="22.0"/></g><g fill="url(#gP)"><ellipse cx="39.0" cy="118.6" rx="19.0" ry="22.0"/></g></g>
<g transform="translate(1550.6,944.7)" clip-path="url(#tclip)"><rect width="116.8" height="216.5" fill="#2f2f2f"/><rect width="116.8" height="48" fill="url(#stripes)"/><use href="#mouse"/><g fill="#000" stroke="#000" stroke-width="3.2"><ellipse cx="38.8" cy="119.0" rx="18.5" ry="22.0"/><ellipse cx="68.4" cy="113.4" rx="8.7" ry="14.5"/></g><g fill="url(#gP)"><ellipse cx="38.8" cy="119.0" rx="18.5" ry="22.0"/><ellipse cx="68.4" cy="113.4" rx="8.7" ry="14.5"/></g></g>
<g transform="translate(1682.7,944.7)" clip-path="url(#tclip)"><rect width="116.8" height="216.5" fill="#2f2f2f"/><rect width="116.8" height="48" fill="url(#stripes)"/><use href="#mouse"/><g fill="#000" stroke="#000" stroke-width="3.2"><path d="M22.0 112.0 C23.7 108.7 29.7 106.0 34.0 106.0 C38.3 106.0 43.3 112.0 48.0 112.0 C52.7 112.0 57.5 106.3 62.0 106.0 C66.5 105.7 73.3 106.7 75.0 110.0 C76.7 113.3 74.8 122.0 72.0 126.0 C69.2 130.0 63.3 132.7 58.0 134.0 C52.7 135.3 45.7 135.3 40.0 134.0 C34.3 132.7 27.0 129.7 24.0 126.0 C21.0 122.3 20.3 115.3 22.0 112.0Z"/></g><g fill="url(#gP)"><path d="M22.0 112.0 C23.7 108.7 29.7 106.0 34.0 106.0 C38.3 106.0 43.3 112.0 48.0 112.0 C52.7 112.0 57.5 106.3 62.0 106.0 C66.5 105.7 73.3 106.7 75.0 110.0 C76.7 113.3 74.8 122.0 72.0 126.0 C69.2 130.0 63.3 132.7 58.0 134.0 C52.7 135.3 45.7 135.3 40.0 134.0 C34.3 132.7 27.0 129.7 24.0 126.0 C21.0 122.3 20.3 115.3 22.0 112.0Z"/></g></g>
<g transform="translate(92.0,1171.4)" clip-path="url(#tclip)"><rect width="116.8" height="216.5" fill="#2f2f2f"/><rect width="116.8" height="48" fill="url(#stripes)"/><use href="#mouse" transform="translate(116.8,0) scale(-1,1)"/><g fill="#000" stroke="#000" stroke-width="3.2"><ellipse cx="37.4" cy="124.0" rx="18.0" ry="20.0"/></g><g fill="url(#gV)"><ellipse cx="37.4" cy="124.0" rx="18.0" ry="20.0"/></g><ellipse cx="33.8" cy="122.6" rx="13.0" ry="13.0" fill="url(#h2)"/></g>
<g transform="translate(221.1,1171.4)" clip-path="url(#tclip)"><rect width="116.8" height="216.5" fill="#2f2f2f"/><rect width="116.8" height="48" fill="url(#stripes)"/><use href="#mouse"/><g fill="#000" stroke="#000" stroke-width="3.2"><ellipse cx="78.0" cy="116.0" rx="14.0" ry="19.0" transform="rotate(30 78.0 116.0)"/><ellipse cx="37.9" cy="127.8" rx="4.0" ry="3.5"/></g><g fill="url(#gV)"><ellipse cx="78.0" cy="116.0" rx="14.0" ry="19.0" transform="rotate(30 78.0 116.0)"/><ellipse cx="37.9" cy="127.8" rx="4.0" ry="3.5"/></g><ellipse cx="81.3" cy="116.5" rx="11.0" ry="11.0" fill="url(#h2)"/></g>
<g transform="translate(350.5,1171.4)" clip-path="url(#tclip)"><rect width="116.8" height="216.5" fill="#2f2f2f"/><rect width="116.8" height="48" fill="url(#stripes)"/><use href="#mouse"/><g fill="#000" stroke="#000" stroke-width="3.2"><path d="M34.0 122.0 C35.7 119.3 40.3 116.7 44.0 116.0 C47.7 115.3 53.0 116.7 56.0 118.0 C59.0 119.3 61.7 121.7 62.0 124.0 C62.3 126.3 59.7 130.0 58.0 132.0 C56.3 134.0 52.7 133.7 52.0 136.0 C51.3 138.3 55.3 144.3 54.0 146.0 C52.7 147.7 46.0 147.7 44.0 146.0 C42.0 144.3 43.7 138.3 42.0 136.0 C40.3 133.7 35.3 134.3 34.0 132.0 C32.7 129.7 32.3 124.7 34.0 122.0Z"/><ellipse cx="81.4" cy="132.4" rx="9.0" ry="9.0"/><ellipse cx="63.3" cy="163.0" rx="3.0" ry="3.5"/><ellipse cx="53.3" cy="108.4" rx="1.5" ry="1.5"/></g><g fill="url(#gV)"><path d="M34.0 122.0 C35.7 119.3 40.3 116.7 44.0 116.0 C47.7 115.3 53.0 116.7 56.0 118.0 C59.0 119.3 61.7 121.7 62.0 124.0 C62.3 126.3 59.7 130.0 58.0 132.0 C56.3 134.0 52.7 133.7 52.0 136.0 C51.3 138.3 55.3 144.3 54.0 146.0 C52.7 147.7 46.0 147.7 44.0 146.0 C42.0 144.3 43.7 138.3 42.0 136.0 C40.3 133.7 35.3 134.3 34.0 132.0 C32.7 129.7 32.3 124.7 34.0 122.0Z"/><ellipse cx="81.4" cy="132.4" rx="9.0" ry="9.0"/><ellipse cx="63.3" cy="163.0" rx="3.0" ry="3.5"/><ellipse cx="53.3" cy="108.4" rx="1.5" ry="1.5"/></g></g>
<g transform="translate(479.5,1171.4)" clip-path="url(#tclip)"><rect width="116.8" height="216.5" fill="#2f2f2f"/><rect width="116.8" height="48" fill="url(#stripes)"/><use href="#mouse" transform="translate(116.8,0) scale(-1,1)"/><g fill="#000" stroke="#000" stroke-width="3.2"><path d="M26.0 112.0 C27.3 105.3 31.3 100.2 36.0 96.0 C40.7 91.8 48.0 87.7 54.0 87.0 C60.0 86.3 67.3 88.2 72.0 92.0 C76.7 95.8 79.0 105.7 82.0 110.0 C85.0 114.3 89.0 114.0 90.0 118.0 C91.0 122.0 93.0 131.3 88.0 134.0 C83.0 136.7 70.0 133.7 60.0 134.0 C50.0 134.3 33.7 139.7 28.0 136.0 C22.3 132.3 24.7 118.7 26.0 112.0Z"/></g><g fill="url(#gV)"><path d="M26.0 112.0 C27.3 105.3 31.3 100.2 36.0 96.0 C40.7 91.8 48.0 87.7 54.0 87.0 C60.0 86.3 67.3 88.2 72.0 92.0 C76.7 95.8 79.0 105.7 82.0 110.0 C85.0 114.3 89.0 114.0 90.0 118.0 C91.0 122.0 93.0 131.3 88.0 134.0 C83.0 136.7 70.0 133.7 60.0 134.0 C50.0 134.3 33.7 139.7 28.0 136.0 C22.3 132.3 24.7 118.7 26.0 112.0Z"/></g><ellipse cx="54.9" cy="104.4" rx="14.0" ry="11.0" fill="url(#h1)"/></g>
<g transform="translate(608.5,1171.4)" clip-path="url(#tclip)"><rect width="116.8" height="216.5" fill="#2f2f2f"/><rect width="116.8" height="48" fill="url(#stripes)"/><use href="#mouse"/><g fill="#000" stroke="#000" stroke-width="3.2"><ellipse cx="28.6" cy="127.8" rx="14.0" ry="16.0"/><ellipse cx="51.0" cy="125.0" rx="9.0" ry="8.0"/><ellipse cx="73.9" cy="119.7" rx="11.0" ry="14.0"/></g><g fill="url(#gV)"><ellipse cx="28.6" cy="127.8" rx="14.0" ry="16.0"/><ellipse cx="51.0" cy="125.0" rx="9.0" ry="8.0"/><ellipse cx="73.9" cy="119.7" rx="11.0" ry="14.0"/></g><ellipse cx="27.0" cy="128.0" rx="10.0" ry="10.0" fill="url(#h1)"/><ellipse cx="74.0" cy="120.0" rx="8.0" ry="9.0" fill="url(#h1)"/></g>
<g transform="translate(737.7,1171.4)" clip-path="url(#tclip)"><rect width="116.8" height="216.5" fill="#2f2f2f"/><rect width="116.8" height="48" fill="url(#stripes)"/><use href="#mouse"/><g fill="#000" stroke="#000" stroke-width="3.2"><rect x="16.6" y="84.9" width="73.1" height="48.7" rx="10.0"/></g><g fill="url(#gV)"><rect x="16.6" y="84.9" width="73.1" height="48.7" rx="10.0"/></g><ellipse cx="55.0" cy="108.0" rx="34.0" ry="22.0" fill="url(#h1)"/><ellipse cx="47.9" cy="112.7" rx="12.0" ry="7.0" fill="url(#h2)"/><ellipse cx="70.0" cy="106.0" rx="10.0" ry="8.0" fill="url(#h1)"/></g>
<g transform="translate(866.7,1171.4)" clip-path="url(#tclip)"><rect width="116.8" height="216.5" fill="#2f2f2f"/><rect width="116.8" height="48" fill="url(#stripes)"/><use href="#mouse" transform="translate(116.8,0) scale(-1,1)"/><g fill="#000" stroke="#000" stroke-width="3.2"><rect x="17.5" y="86.0" width="70.8" height="63.8" rx="10.0"/></g><g fill="url(#gV)"><rect x="17.5" y="86.0" width="70.8" height="63.8" rx="10.0"/></g><ellipse cx="53.0" cy="118.0" rx="42.0" ry="36.0" fill="url(#h1)"/><ellipse cx="53.0" cy="117.0" rx="34.0" ry="24.0" fill="url(#h4)"/></g>
<g transform="translate(1033.8,1171.4)" clip-path="url(#tclip)"><rect width="116.8" height="216.5" fill="#2f2f2f"/><rect width="116.8" height="48" fill="url(#stripes)"/><use href="#mouse"/><g fill="#000" stroke="#000" stroke-width="3.2"><ellipse cx="36.2" cy="114.0" rx="10.0" ry="12.0"/><ellipse cx="31.0" cy="136.7" rx="3.0" ry="3.0"/></g><g fill="url(#gP)"><ellipse cx="36.2" cy="114.0" rx="10.0" ry="12.0"/><ellipse cx="31.0" cy="136.7" rx="3.0" ry="3.0"/></g></g>
<g transform="translate(1164.9,1171.4)" clip-path="url(#tclip)"><rect width="116.8" height="216.5" fill="#2f2f2f"/><rect width="116.8" height="48" fill="url(#stripes)"/><use href="#mouse"/><g fill="#000" stroke="#000" stroke-width="3.2"><ellipse cx="29.8" cy="130.3" rx="11.6" ry="13.4"/><ellipse cx="77.4" cy="115.8" rx="4.5" ry="5.0"/></g><g fill="url(#gP)"><ellipse cx="29.8" cy="130.3" rx="11.6" ry="13.4"/><ellipse cx="77.4" cy="115.8" rx="4.5" ry="5.0"/></g></g>
<g transform="translate(1293.8,1171.4)" clip-path="url(#tclip)"><rect width="116.8" height="216.5" fill="#2f2f2f"/><rect width="116.8" height="48" fill="url(#stripes)"/><use href="#mouse" transform="translate(116.8,0) scale(-1,1)"/><g fill="#000" stroke="#000" stroke-width="3.2"><path d="M10.0 104.0 C12.0 99.0 15.0 92.7 20.0 90.0 C25.0 87.3 34.0 87.3 40.0 88.0 C46.0 88.7 53.0 91.3 56.0 94.0 C59.0 96.7 55.7 100.0 58.0 104.0 C60.3 108.0 68.3 114.3 70.0 118.0 C71.7 121.7 71.0 125.3 68.0 126.0 C65.0 126.7 57.3 121.3 52.0 122.0 C46.7 122.7 41.7 128.3 36.0 130.0 C30.3 131.7 22.7 133.7 18.0 132.0 C13.3 130.3 9.3 124.7 8.0 120.0 C6.7 115.3 8.0 109.0 10.0 104.0Z"/></g><g fill="url(#gV)"><path d="M10.0 104.0 C12.0 99.0 15.0 92.7 20.0 90.0 C25.0 87.3 34.0 87.3 40.0 88.0 C46.0 88.7 53.0 91.3 56.0 94.0 C59.0 96.7 55.7 100.0 58.0 104.0 C60.3 108.0 68.3 114.3 70.0 118.0 C71.7 121.7 71.0 125.3 68.0 126.0 C65.0 126.7 57.3 121.3 52.0 122.0 C46.7 122.7 41.7 128.3 36.0 130.0 C30.3 131.7 22.7 133.7 18.0 132.0 C13.3 130.3 9.3 124.7 8.0 120.0 C6.7 115.3 8.0 109.0 10.0 104.0Z"/></g><ellipse cx="23.9" cy="108.0" rx="16.0" ry="14.0" fill="url(#h1)"/><ellipse cx="24.0" cy="107.0" rx="6.0" ry="5.0" fill="url(#h2)"/></g>
<g transform="translate(1423.3,1171.4)" clip-path="url(#tclip)"><rect width="116.8" height="216.5" fill="#2f2f2f"/><rect width="116.8" height="48" fill="url(#stripes)"/><use href="#mouse"/><g fill="#000" stroke="#000" stroke-width="3.2"><ellipse cx="56.0" cy="106.0" rx="16.0" ry="13.0"/><ellipse cx="38.0" cy="123.0" rx="13.0" ry="13.0"/></g><g fill="url(#gP)"><ellipse cx="56.0" cy="106.0" rx="16.0" ry="13.0"/><ellipse cx="38.0" cy="123.0" rx="13.0" ry="13.0"/></g></g>
<g transform="translate(1550.6,1171.4)" clip-path="url(#tclip)"><rect width="116.8" height="216.5" fill="#2f2f2f"/><rect width="116.8" height="48" fill="url(#stripes)"/><use href="#mouse"/><g fill="#000" stroke="#000" stroke-width="3.2"><path d="M26.0 104.0 C28.7 99.7 35.0 98.3 40.0 98.0 C45.0 97.7 51.0 102.0 56.0 102.0 C61.0 102.0 65.3 97.7 70.0 98.0 C74.7 98.3 81.3 99.3 84.0 104.0 C86.7 108.7 87.0 120.0 86.0 126.0 C85.0 132.0 82.0 139.0 78.0 140.0 C74.0 141.0 67.0 131.7 62.0 132.0 C57.0 132.3 53.3 140.7 48.0 142.0 C42.7 143.3 34.0 143.0 30.0 140.0 C26.0 137.0 24.7 130.0 24.0 124.0 C23.3 118.0 23.3 108.3 26.0 104.0Z"/></g><g fill="url(#gP)"><path d="M26.0 104.0 C28.7 99.7 35.0 98.3 40.0 98.0 C45.0 97.7 51.0 102.0 56.0 102.0 C61.0 102.0 65.3 97.7 70.0 98.0 C74.7 98.3 81.3 99.3 84.0 104.0 C86.7 108.7 87.0 120.0 86.0 126.0 C85.0 132.0 82.0 139.0 78.0 140.0 C74.0 141.0 67.0 131.7 62.0 132.0 C57.0 132.3 53.3 140.7 48.0 142.0 C42.7 143.3 34.0 143.0 30.0 140.0 C26.0 137.0 24.7 130.0 24.0 124.0 C23.3 118.0 23.3 108.3 26.0 104.0Z"/></g><ellipse cx="54.0" cy="112.0" rx="9.0" ry="7.0" fill="#cfcfcf" stroke="#000" stroke-width="2"/></g>
<g transform="translate(1682.7,1171.4)" clip-path="url(#tclip)"><rect width="116.8" height="216.5" fill="#2f2f2f"/><rect width="116.8" height="48" fill="url(#stripes)"/><use href="#mouse" transform="translate(116.8,0) scale(-1,1)"/><g fill="#000" stroke="#000" stroke-width="3.2"><ellipse cx="37.8" cy="99.5" rx="10.5" ry="10.5"/></g><g fill="url(#gP)"><ellipse cx="37.8" cy="99.5" rx="10.5" ry="10.5"/></g></g>
<g transform="translate(92.0,1396.3)" clip-path="url(#tclip)"><rect width="116.8" height="216.5" fill="#2f2f2f"/><rect width="116.8" height="48" fill="url(#stripes)"/><use href="#mouse"/><g fill="#000" stroke="#000" stroke-width="3.2"><path d="M22.0 78.0 C24.3 72.3 30.0 70.3 34.0 70.0 C38.0 69.7 41.7 73.7 46.0 76.0 C50.3 78.3 55.3 82.3 60.0 84.0 C64.7 85.7 70.7 82.7 74.0 86.0 C77.3 89.3 77.7 98.7 80.0 104.0 C82.3 109.3 88.0 113.7 88.0 118.0 C88.0 122.3 83.0 126.0 80.0 130.0 C77.0 134.0 75.0 139.3 70.0 142.0 C65.0 144.7 56.7 146.0 50.0 146.0 C43.3 146.0 34.7 145.0 30.0 142.0 C25.3 139.0 23.7 134.3 22.0 128.0 C20.3 121.7 20.0 112.3 20.0 104.0 C20.0 95.7 19.7 83.7 22.0 78.0Z"/></g><g fill="url(#gV)"><path d="M22.0 78.0 C24.3 72.3 30.0 70.3 34.0 70.0 C38.0 69.7 41.7 73.7 46.0 76.0 C50.3 78.3 55.3 82.3 60.0 84.0 C64.7 85.7 70.7 82.7 74.0 86.0 C77.3 89.3 77.7 98.7 80.0 104.0 C82.3 109.3 88.0 113.7 88.0 118.0 C88.0 122.3 83.0 126.0 80.0 130.0 C77.0 134.0 75.0 139.3 70.0 142.0 C65.0 144.7 56.7 146.0 50.0 146.0 C43.3 146.0 34.7 145.0 30.0 142.0 C25.3 139.0 23.7 134.3 22.0 128.0 C20.3 121.7 20.0 112.3 20.0 104.0 C20.0 95.7 19.7 83.7 22.0 78.0Z"/></g><ellipse cx="52.3" cy="120.0" rx="20.0" ry="22.0" fill="url(#h3)"/><ellipse cx="28.5" cy="102.0" rx="7.0" ry="7.0" fill="url(#h2)"/><ellipse cx="30.0" cy="88.0" rx="8.0" ry="10.0" fill="url(#h1)"/></g>
<g transform="translate(221.1,1396.3)" clip-path="url(#tclip)"><rect width="116.8" height="216.5" fill="#2f2f2f"/><rect width="116.8" height="48" fill="url(#stripes)"/><use href="#mouse"/><g fill="#000" stroke="#000" stroke-width="3.2"><path d="M24.0 96.0 C26.3 89.7 31.0 86.0 36.0 82.0 C41.0 78.0 47.0 73.7 54.0 72.0 C61.0 70.3 71.7 69.3 78.0 72.0 C84.3 74.7 88.7 81.7 92.0 88.0 C95.3 94.3 97.0 103.0 98.0 110.0 C99.0 117.0 99.3 123.3 98.0 130.0 C96.7 136.7 94.7 145.7 90.0 150.0 C85.3 154.3 77.7 155.3 70.0 156.0 C62.3 156.7 51.3 156.0 44.0 154.0 C36.7 152.0 29.7 149.7 26.0 144.0 C22.3 138.3 22.3 128.0 22.0 120.0 C21.7 112.0 21.7 102.3 24.0 96.0Z"/></g><g fill="url(#gV)"><path d="M24.0 96.0 C26.3 89.7 31.0 86.0 36.0 82.0 C41.0 78.0 47.0 73.7 54.0 72.0 C61.0 70.3 71.7 69.3 78.0 72.0 C84.3 74.7 88.7 81.7 92.0 88.0 C95.3 94.3 97.0 103.0 98.0 110.0 C99.0 117.0 99.3 123.3 98.0 130.0 C96.7 136.7 94.7 145.7 90.0 150.0 C85.3 154.3 77.7 155.3 70.0 156.0 C62.3 156.7 51.3 156.0 44.0 154.0 C36.7 152.0 29.7 149.7 26.0 144.0 C22.3 138.3 22.3 128.0 22.0 120.0 C21.7 112.0 21.7 102.3 24.0 96.0Z"/></g><ellipse cx="74.5" cy="123.4" rx="12.0" ry="12.0" fill="url(#h2)"/><ellipse cx="68.9" cy="88.4" rx="10.0" ry="7.0" fill="url(#h1)"/><ellipse cx="38.3" cy="129.0" rx="9.0" ry="9.0" fill="url(#h1)"/><ellipse cx="80.0" cy="135.0" rx="7.0" ry="8.0" fill="url(#h2)"/><ellipse cx="84.0" cy="104.0" rx="5.0" ry="9.0" fill="url(#h1)"/></g>
<g transform="translate(350.5,1396.3)" clip-path="url(#tclip)"><rect width="116.8" height="216.5" fill="#2f2f2f"/><rect width="116.8" height="48" fill="url(#stripes)"/><use href="#mouse" transform="translate(116.8,0) scale(-1,1)"/><g fill="#000" stroke="#000" stroke-width="3.2"><path d="M24.0 100.0 C26.3 91.7 32.3 93.3 38.0 90.0 C43.7 86.7 54.0 83.3 58.0 80.0 C62.0 76.7 60.0 69.7 62.0 70.0 C64.0 70.3 65.3 78.7 70.0 82.0 C74.7 85.3 84.3 87.0 90.0 90.0 C95.7 93.0 101.3 93.3 104.0 100.0 C106.7 106.7 106.7 121.7 106.0 130.0 C105.3 138.3 104.3 145.0 100.0 150.0 C95.7 155.0 85.0 154.0 80.0 160.0 C75.0 166.0 74.0 181.7 70.0 186.0 C66.0 190.3 59.0 189.3 56.0 186.0 C53.0 182.7 54.7 167.7 52.0 166.0 C49.3 164.3 44.3 175.3 40.0 176.0 C35.7 176.7 28.7 176.0 26.0 170.0 C23.3 164.0 24.3 151.7 24.0 140.0 C23.7 128.3 21.7 108.3 24.0 100.0Z"/></g><g fill="url(#gV)"><path d="M24.0 100.0 C26.3 91.7 32.3 93.3 38.0 90.0 C43.7 86.7 54.0 83.3 58.0 80.0 C62.0 76.7 60.0 69.7 62.0 70.0 C64.0 70.3 65.3 78.7 70.0 82.0 C74.7 85.3 84.3 87.0 90.0 90.0 C95.7 93.0 101.3 93.3 104.0 100.0 C106.7 106.7 106.7 121.7 106.0 130.0 C105.3 138.3 104.3 145.0 100.0 150.0 C95.7 155.0 85.0 154.0 80.0 160.0 C75.0 166.0 74.0 181.7 70.0 186.0 C66.0 190.3 59.0 189.3 56.0 186.0 C53.0 182.7 54.7 167.7 52.0 166.0 C49.3 164.3 44.3 175.3 40.0 176.0 C35.7 176.7 28.7 176.0 26.0 170.0 C23.3 164.0 24.3 151.7 24.0 140.0 C23.7 128.3 21.7 108.3 24.0 100.0Z"/></g><ellipse cx="70.0" cy="131.3" rx="24.0" ry="14.0" fill="url(#h3)"/><ellipse cx="88.0" cy="100.0" rx="10.0" ry="10.0" fill="url(#h1)"/></g>
<g transform="translate(479.5,1396.3)" clip-path="url(#tclip)"><rect width="116.8" height="216.5" fill="#2f2f2f"/><rect width="116.8" height="48" fill="url(#stripes)"/><use href="#mouse"/><g fill="#000" stroke="#000" stroke-width="3.2"><path d="M24.0 82.0 C27.0 75.3 34.0 72.3 40.0 70.0 C46.0 67.7 52.3 67.3 60.0 68.0 C67.7 68.7 79.3 70.0 86.0 74.0 C92.7 78.0 97.0 84.3 100.0 92.0 C103.0 99.7 104.0 110.7 104.0 120.0 C104.0 129.3 104.0 142.0 100.0 148.0 C96.0 154.0 85.7 156.3 80.0 156.0 C74.3 155.7 71.3 148.7 66.0 146.0 C60.7 143.3 54.0 142.7 48.0 140.0 C42.0 137.3 34.3 135.0 30.0 130.0 C25.7 125.0 23.0 118.0 22.0 110.0 C21.0 102.0 21.0 88.7 24.0 82.0Z"/></g><g fill="url(#gV)"><path d="M24.0 82.0 C27.0 75.3 34.0 72.3 40.0 70.0 C46.0 67.7 52.3 67.3 60.0 68.0 C67.7 68.7 79.3 70.0 86.0 74.0 C92.7 78.0 97.0 84.3 100.0 92.0 C103.0 99.7 104.0 110.7 104.0 120.0 C104.0 129.3 104.0 142.0 100.0 148.0 C96.0 154.0 85.7 156.3 80.0 156.0 C74.3 155.7 71.3 148.7 66.0 146.0 C60.7 143.3 54.0 142.7 48.0 140.0 C42.0 137.3 34.3 135.0 30.0 130.0 C25.7 125.0 23.0 118.0 22.0 110.0 C21.0 102.0 21.0 88.7 24.0 82.0Z"/></g><ellipse cx="61.3" cy="98.0" rx="16.0" ry="18.0" fill="url(#h3)"/><ellipse cx="50.0" cy="109.7" rx="8.0" ry="7.0" fill="url(#h2)"/><ellipse cx="80.0" cy="115.0" rx="8.0" ry="8.0" fill="url(#h1)"/></g>
<g transform="translate(608.5,1396.3)" clip-path="url(#tclip)"><rect width="116.8" height="216.5" fill="#2f2f2f"/><rect width="116.8" height="48" fill="url(#stripes)"/><use href="#mouse"/><g fill="#000" stroke="#000" stroke-width="3.2"><path d="M26.0 86.0 C29.3 77.7 37.7 80.3 44.0 80.0 C50.3 79.7 57.0 84.0 64.0 84.0 C71.0 84.0 79.3 79.3 86.0 80.0 C92.7 80.7 100.3 83.0 104.0 88.0 C107.7 93.0 108.0 101.3 108.0 110.0 C108.0 118.7 106.7 133.3 104.0 140.0 C101.3 146.7 94.3 145.0 92.0 150.0 C89.7 155.0 92.7 164.0 90.0 170.0 C87.3 176.0 81.3 182.7 76.0 186.0 C70.7 189.3 64.7 190.3 58.0 190.0 C51.3 189.7 41.3 189.0 36.0 184.0 C30.7 179.0 28.0 169.0 26.0 160.0 C24.0 151.0 24.0 142.3 24.0 130.0 C24.0 117.7 22.7 94.3 26.0 86.0Z"/></g><g fill="url(#gV)"><path d="M26.0 86.0 C29.3 77.7 37.7 80.3 44.0 80.0 C50.3 79.7 57.0 84.0 64.0 84.0 C71.0 84.0 79.3 79.3 86.0 80.0 C92.7 80.7 100.3 83.0 104.0 88.0 C107.7 93.0 108.0 101.3 108.0 110.0 C108.0 118.7 106.7 133.3 104.0 140.0 C101.3 146.7 94.3 145.0 92.0 150.0 C89.7 155.0 92.7 164.0 90.0 170.0 C87.3 176.0 81.3 182.7 76.0 186.0 C70.7 189.3 64.7 190.3 58.0 190.0 C51.3 189.7 41.3 189.0 36.0 184.0 C30.7 179.0 28.0 169.0 26.0 160.0 C24.0 151.0 24.0 142.3 24.0 130.0 C24.0 117.7 22.7 94.3 26.0 86.0Z"/></g><ellipse cx="59.3" cy="132.2" rx="17.0" ry="12.0" fill="url(#h3)"/><ellipse cx="50.0" cy="110.0" rx="16.0" ry="14.0" fill="url(#h1)"/><ellipse cx="84.0" cy="118.0" rx="12.0" ry="16.0" fill="url(#h1)"/></g>
<g transform="translate(1033.8,1396.3)" clip-path="url(#tclip)"><rect width="116.8" height="216.5" fill="#2f2f2f"/><rect width="116.8" height="48" fill="url(#stripes)"/><use href="#mouse" transform="translate(116.8,0) scale(-1,1)"/><g fill="#000" stroke="#000" stroke-width="3.2"><ellipse cx="29.3" cy="124.0" rx="8.7" ry="24.0"/><path d="M40.0 94.0 C43.0 91.0 52.3 90.3 58.0 92.0 C63.7 93.7 70.7 98.7 74.0 104.0 C77.3 109.3 78.3 118.0 78.0 124.0 C77.7 130.0 75.7 137.3 72.0 140.0 C68.3 142.7 60.0 142.3 56.0 140.0 C52.0 137.7 50.7 131.0 48.0 126.0 C45.3 121.0 41.3 115.3 40.0 110.0 C38.7 104.7 37.0 97.0 40.0 94.0Z"/><ellipse cx="55.3" cy="159.8" rx="12.7" ry="14.5"/><ellipse cx="84.4" cy="135.0" rx="3.0" ry="3.0"/></g><g fill="url(#gV)"><ellipse cx="29.3" cy="124.0" rx="8.7" ry="24.0"/><path d="M40.0 94.0 C43.0 91.0 52.3 90.3 58.0 92.0 C63.7 93.7 70.7 98.7 74.0 104.0 C77.3 109.3 78.3 118.0 78.0 124.0 C77.7 130.0 75.7 137.3 72.0 140.0 C68.3 142.7 60.0 142.3 56.0 140.0 C52.0 137.7 50.7 131.0 48.0 126.0 C45.3 121.0 41.3 115.3 40.0 110.0 C38.7 104.7 37.0 97.0 40.0 94.0Z"/><ellipse cx="55.3" cy="159.8" rx="12.7" ry="14.5"/><ellipse cx="84.4" cy="135.0" rx="3.0" ry="3.0"/></g><ellipse cx="46.0" cy="130.0" rx="6.0" ry="8.0" fill="#cfcfcf" stroke="#000" stroke-width="2"/></g>
<g transform="translate(1164.9,1396.3)" clip-path="url(#tclip)"><rect width="116.8" height="216.5" fill="#2f2f2f"/><rect width="116.8" height="48" fill="url(#stripes)"/><use href="#mouse"/><g fill="#000" stroke="#000" stroke-width="3.2"><ellipse cx="33.3" cy="122.0" rx="15.0" ry="15.0"/><ellipse cx="82.0" cy="109.4" rx="4.0" ry="4.0"/></g><g fill="url(#gP)"><ellipse cx="33.3" cy="122.0" rx="15.0" ry="15.0"/><ellipse cx="82.0" cy="109.4" rx="4.0" ry="4.0"/></g></g>
<g transform="translate(1293.8,1396.3)" clip-path="url(#tclip)"><rect width="116.8" height="216.5" fill="#2f2f2f"/><rect width="116.8" height="48" fill="url(#stripes)"/><use href="#mouse"/><g fill="#000" stroke="#000" stroke-width="3.2"><path d="M18.0 92.0 C22.0 86.2 31.3 86.0 40.0 85.0 C48.7 84.0 60.7 85.2 70.0 86.0 C79.3 86.8 90.0 86.0 96.0 90.0 C102.0 94.0 104.7 101.7 106.0 110.0 C107.3 118.3 106.7 133.3 104.0 140.0 C101.3 146.7 97.0 148.3 90.0 150.0 C83.0 151.7 67.3 146.7 62.0 150.0 C56.7 153.3 61.7 166.3 58.0 170.0 C54.3 173.7 44.3 175.0 40.0 172.0 C35.7 169.0 35.7 156.0 32.0 152.0 C28.3 148.0 20.7 153.3 18.0 148.0 C15.3 142.7 16.0 129.3 16.0 120.0 C16.0 110.7 14.0 97.8 18.0 92.0Z"/><ellipse cx="60.0" cy="195.0" rx="9.0" ry="19.0"/></g><g fill="url(#gV)"><path d="M18.0 92.0 C22.0 86.2 31.3 86.0 40.0 85.0 C48.7 84.0 60.7 85.2 70.0 86.0 C79.3 86.8 90.0 86.0 96.0 90.0 C102.0 94.0 104.7 101.7 106.0 110.0 C107.3 118.3 106.7 133.3 104.0 140.0 C101.3 146.7 97.0 148.3 90.0 150.0 C83.0 151.7 67.3 146.7 62.0 150.0 C56.7 153.3 61.7 166.3 58.0 170.0 C54.3 173.7 44.3 175.0 40.0 172.0 C35.7 169.0 35.7 156.0 32.0 152.0 C28.3 148.0 20.7 153.3 18.0 148.0 C15.3 142.7 16.0 129.3 16.0 120.0 C16.0 110.7 14.0 97.8 18.0 92.0Z"/><ellipse cx="60.0" cy="195.0" rx="9.0" ry="19.0"/></g><ellipse cx="42.4" cy="105.9" rx="12.0" ry="9.0" fill="url(#h2)"/><ellipse cx="30.0" cy="125.0" rx="8.0" ry="10.0" fill="url(#h1)"/><ellipse cx="50.0" cy="135.0" rx="12.0" ry="8.0" fill="url(#h1)"/><ellipse cx="60.0" cy="112.0" rx="9.0" ry="9.0" fill="url(#h1)"/></g>
<g transform="translate(1423.3,1396.3)" clip-path="url(#tclip)"><rect width="116.8" height="216.5" fill="#2f2f2f"/><rect width="116.8" height="48" fill="url(#stripes)"/><use href="#mouse" transform="translate(116.8,0) scale(-1,1)"/><g fill="#000" stroke="#000" stroke-width="3.2"><path d="M18.0 92.0 C22.0 85.8 29.0 87.7 36.0 87.0 C43.0 86.3 51.7 87.2 60.0 88.0 C68.3 88.8 81.0 88.3 86.0 92.0 C91.0 95.7 91.0 104.7 90.0 110.0 C89.0 115.3 83.3 119.0 80.0 124.0 C76.7 129.0 73.7 134.7 70.0 140.0 C66.3 145.3 64.7 153.0 58.0 156.0 C51.3 159.0 37.3 159.3 30.0 158.0 C22.7 156.7 17.0 153.7 14.0 148.0 C11.0 142.3 11.3 133.3 12.0 124.0 C12.7 114.7 14.0 98.2 18.0 92.0Z"/><ellipse cx="37.3" cy="170.9" rx="3.0" ry="3.5"/></g><g fill="url(#gV)"><path d="M18.0 92.0 C22.0 85.8 29.0 87.7 36.0 87.0 C43.0 86.3 51.7 87.2 60.0 88.0 C68.3 88.8 81.0 88.3 86.0 92.0 C91.0 95.7 91.0 104.7 90.0 110.0 C89.0 115.3 83.3 119.0 80.0 124.0 C76.7 129.0 73.7 134.7 70.0 140.0 C66.3 145.3 64.7 153.0 58.0 156.0 C51.3 159.0 37.3 159.3 30.0 158.0 C22.7 156.7 17.0 153.7 14.0 148.0 C11.0 142.3 11.3 133.3 12.0 124.0 C12.7 114.7 14.0 98.2 18.0 92.0Z"/><ellipse cx="37.3" cy="170.9" rx="3.0" ry="3.5"/></g><ellipse cx="44.0" cy="112.0" rx="16.0" ry="14.0" fill="url(#h1)"/><ellipse cx="36.0" cy="140.0" rx="12.0" ry="10.0" fill="url(#h1)"/><ellipse cx="46.0" cy="110.0" rx="6.0" ry="5.0" fill="url(#h2)"/><ellipse cx="34.0" cy="142.0" rx="6.0" ry="5.0" fill="url(#h2)"/></g>
<g transform="translate(1550.6,1396.3)" clip-path="url(#tclip)"><rect width="116.8" height="216.5" fill="#2f2f2f"/><rect width="116.8" height="48" fill="url(#stripes)"/><use href="#mouse"/><g fill="#000" stroke="#000" stroke-width="3.2"><path d="M24.0 96.0 C26.7 89.0 33.3 88.3 38.0 88.0 C42.7 87.7 47.7 94.0 52.0 94.0 C56.3 94.0 60.3 87.7 64.0 88.0 C67.7 88.3 72.3 90.7 74.0 96.0 C75.7 101.3 75.3 113.3 74.0 120.0 C72.7 126.7 70.0 131.0 66.0 136.0 C62.0 141.0 56.0 148.0 50.0 150.0 C44.0 152.0 34.7 151.3 30.0 148.0 C25.3 144.7 23.0 138.7 22.0 130.0 C21.0 121.3 21.3 103.0 24.0 96.0Z"/></g><g fill="url(#gV)"><path d="M24.0 96.0 C26.7 89.0 33.3 88.3 38.0 88.0 C42.7 87.7 47.7 94.0 52.0 94.0 C56.3 94.0 60.3 87.7 64.0 88.0 C67.7 88.3 72.3 90.7 74.0 96.0 C75.7 101.3 75.3 113.3 74.0 120.0 C72.7 126.7 70.0 131.0 66.0 136.0 C62.0 141.0 56.0 148.0 50.0 150.0 C44.0 152.0 34.7 151.3 30.0 148.0 C25.3 144.7 23.0 138.7 22.0 130.0 C21.0 121.3 21.3 103.0 24.0 96.0Z"/></g><ellipse cx="45.7" cy="114.0" rx="4.0" ry="3.5" fill="#cfcfcf" stroke="#000" stroke-width="2"/><ellipse cx="40.0" cy="140.0" rx="12.0" ry="8.0" fill="url(#h0)"/></g>
<g transform="translate(1682.7,1396.3)" clip-path="url(#tclip)"><rect width="116.8" height="216.5" fill="#2f2f2f"/><rect width="116.8" height="48" fill="url(#stripes)"/><use href="#mouse"/><g fill="#000" stroke="#000" stroke-width="3.2"><path d="M30.0 102.0 C32.0 98.3 36.3 96.7 40.0 98.0 C43.7 99.3 48.3 105.0 52.0 110.0 C55.7 115.0 60.7 122.0 62.0 128.0 C63.3 134.0 62.3 143.0 60.0 146.0 C57.7 149.0 52.3 147.0 48.0 146.0 C43.7 145.0 37.3 144.3 34.0 140.0 C30.7 135.7 28.7 126.3 28.0 120.0 C27.3 113.7 28.0 105.7 30.0 102.0Z"/><ellipse cx="87.6" cy="135.0" rx="5.0" ry="3.0" transform="rotate(-30 87.6 135.0)"/></g><g fill="url(#gV)"><path d="M30.0 102.0 C32.0 98.3 36.3 96.7 40.0 98.0 C43.7 99.3 48.3 105.0 52.0 110.0 C55.7 115.0 60.7 122.0 62.0 128.0 C63.3 134.0 62.3 143.0 60.0 146.0 C57.7 149.0 52.3 147.0 48.0 146.0 C43.7 145.0 37.3 144.3 34.0 140.0 C30.7 135.7 28.7 126.3 28.0 120.0 C27.3 113.7 28.0 105.7 30.0 102.0Z"/><ellipse cx="87.6" cy="135.0" rx="5.0" ry="3.0" transform="rotate(-30 87.6 135.0)"/></g><ellipse cx="35.5" cy="121.0" rx="7.0" ry="7.0" fill="url(#h1)"/><ellipse cx="50.5" cy="128.0" rx="6.0" ry="6.0" fill="url(#h1)"/></g>
<rect x="1831.5" y="1019.9" width="17.4" height="547.6" fill="url(#cbar)"/>
<rect x="1831.5" y="1019.9" width="17.4" height="547.6" fill="url(#cbarShade)"/>
<line x1="1848.9" y1="1019.9" x2="1859.9" y2="1019.9" stroke="#333" stroke-width="1.60"/>
<text x="1862.5" y="1024.8" font-size="14.0">60000</text>
<line x1="1848.9" y1="1038.4" x2="1857.2" y2="1038.4" stroke="#333" stroke-width="1.60"/>
<line x1="1848.9" y1="1056.9" x2="1857.2" y2="1056.9" stroke="#333" stroke-width="1.60"/>
<line x1="1848.9" y1="1075.4" x2="1857.2" y2="1075.4" stroke="#333" stroke-width="1.60"/>
<line x1="1848.9" y1="1093.9" x2="1857.2" y2="1093.9" stroke="#333" stroke-width="1.60"/>
<line x1="1848.9" y1="1112.4" x2="1859.9" y2="1112.4" stroke="#333" stroke-width="1.60"/>
<text x="1862.5" y="1117.3" font-size="14.0">50000</text>
<line x1="1848.9" y1="1130.9" x2="1857.2" y2="1130.9" stroke="#333" stroke-width="1.60"/>
<line x1="1848.9" y1="1149.4" x2="1857.2" y2="1149.4" stroke="#333" stroke-width="1.60"/>
<line x1="1848.9" y1="1167.9" x2="1857.2" y2="1167.9" stroke="#333" stroke-width="1.60"/>
<line x1="1848.9" y1="1186.4" x2="1857.2" y2="1186.4" stroke="#333" stroke-width="1.60"/>
<line x1="1848.9" y1="1204.9" x2="1859.9" y2="1204.9" stroke="#333" stroke-width="1.60"/>
<text x="1862.5" y="1209.8" font-size="14.0">40000</text>
<line x1="1848.9" y1="1223.4" x2="1857.2" y2="1223.4" stroke="#333" stroke-width="1.60"/>
<line x1="1848.9" y1="1241.9" x2="1857.2" y2="1241.9" stroke="#333" stroke-width="1.60"/>
<line x1="1848.9" y1="1260.4" x2="1857.2" y2="1260.4" stroke="#333" stroke-width="1.60"/>
<line x1="1848.9" y1="1278.9" x2="1857.2" y2="1278.9" stroke="#333" stroke-width="1.60"/>
<line x1="1848.9" y1="1297.4" x2="1859.9" y2="1297.4" stroke="#333" stroke-width="1.60"/>
<text x="1862.5" y="1302.3" font-size="14.0">30000</text>
<line x1="1848.9" y1="1315.9" x2="1857.2" y2="1315.9" stroke="#333" stroke-width="1.60"/>
<line x1="1848.9" y1="1334.4" x2="1857.2" y2="1334.4" stroke="#333" stroke-width="1.60"/>
<line x1="1848.9" y1="1352.9" x2="1857.2" y2="1352.9" stroke="#333" stroke-width="1.60"/>
<line x1="1848.9" y1="1371.4" x2="1857.2" y2="1371.4" stroke="#333" stroke-width="1.60"/>
<line x1="1848.9" y1="1389.9" x2="1859.9" y2="1389.9" stroke="#333" stroke-width="1.60"/>
<text x="1862.5" y="1394.8" font-size="14.0">20000</text>
<line x1="1848.9" y1="1408.4" x2="1857.2" y2="1408.4" stroke="#333" stroke-width="1.60"/>
<line x1="1848.9" y1="1426.9" x2="1857.2" y2="1426.9" stroke="#333" stroke-width="1.60"/>
<line x1="1848.9" y1="1445.4" x2="1857.2" y2="1445.4" stroke="#333" stroke-width="1.60"/>
<line x1="1848.9" y1="1463.9" x2="1857.2" y2="1463.9" stroke="#333" stroke-width="1.60"/>
<line x1="1848.9" y1="1482.4" x2="1859.9" y2="1482.4" stroke="#333" stroke-width="1.60"/>
<text x="1862.5" y="1487.3" font-size="14.0">10000</text>
<line x1="1848.9" y1="1500.9" x2="1857.2" y2="1500.9" stroke="#333" stroke-width="1.60"/>
<line x1="1848.9" y1="1519.4" x2="1857.2" y2="1519.4" stroke="#333" stroke-width="1.60"/>
<line x1="1848.9" y1="1537.9" x2="1857.2" y2="1537.9" stroke="#333" stroke-width="1.60"/>
<line x1="1848.9" y1="1556.4" x2="1857.2" y2="1556.4" stroke="#333" stroke-width="1.60"/>
<text x="1858.0" y="985.8" font-size="14.4" text-anchor="middle">Luminiscence</text>
<text x="1858.5" y="1002.3" font-size="14.4" text-anchor="middle">counts</text>
<text x="40.8" y="1806.9" font-size="75.0" font-weight="bold">F</text>
<line x1="196.8" y1="1777.1" x2="196.8" y2="2295.5" stroke="#888" stroke-width="2.00"/>
<line x1="196.8" y1="2295.5" x2="399.7" y2="2295.5" stroke="#888" stroke-width="2.00"/>
<line x1="188.4" y1="2295.5" x2="196.8" y2="2295.5" stroke="#888" stroke-width="2.00"/>
<text x="170.0" y="2305.0" font-size="26.5" text-anchor="end">0.0</text>
<line x1="188.4" y1="2209.1" x2="196.8" y2="2209.1" stroke="#888" stroke-width="2.00"/>
<text x="170.0" y="2218.6" font-size="26.5" text-anchor="end">0.2</text>
<line x1="188.4" y1="2122.7" x2="196.8" y2="2122.7" stroke="#888" stroke-width="2.00"/>
<text x="170.0" y="2132.2" font-size="26.5" text-anchor="end">0.4</text>
<line x1="188.4" y1="2036.3" x2="196.8" y2="2036.3" stroke="#888" stroke-width="2.00"/>
<text x="170.0" y="2045.8" font-size="26.5" text-anchor="end">0.6</text>
<line x1="188.4" y1="1949.9" x2="196.8" y2="1949.9" stroke="#888" stroke-width="2.00"/>
<text x="170.0" y="1959.4" font-size="26.5" text-anchor="end">0.8</text>
<line x1="188.4" y1="1863.5" x2="196.8" y2="1863.5" stroke="#888" stroke-width="2.00"/>
<text x="170.0" y="1873.0" font-size="26.5" text-anchor="end">1.0</text>
<line x1="188.4" y1="1777.1" x2="196.8" y2="1777.1" stroke="#888" stroke-width="2.00"/>
<text x="170.0" y="1786.6" font-size="26.5" text-anchor="end">1.2</text>
<line x1="196.8" y1="2295.5" x2="196.8" y2="2304.3" stroke="#888" stroke-width="2.00"/>
<line x1="298.0" y1="2295.5" x2="298.0" y2="2304.3" stroke="#888" stroke-width="2.00"/>
<line x1="399.7" y1="2295.5" x2="399.7" y2="2304.3" stroke="#888" stroke-width="2.00"/>
<line x1="233.5" y1="2133.9" x2="233.5" y2="2191.8" stroke="#000" stroke-width="2.50"/>
<line x1="222.5" y1="2133.9" x2="244.5" y2="2133.9" stroke="#000" stroke-width="2.50"/>
<line x1="263.1" y1="2269.6" x2="263.1" y2="2278.2" stroke="#000" stroke-width="2.50"/>
<line x1="252.1" y1="2269.6" x2="274.1" y2="2269.6" stroke="#000" stroke-width="2.50"/>
<line x1="335.1" y1="1804.7" x2="335.1" y2="1863.5" stroke="#000" stroke-width="2.50"/>
<line x1="324.1" y1="1804.7" x2="346.1" y2="1804.7" stroke="#000" stroke-width="2.50"/>
<line x1="364.5" y1="2137.8" x2="364.5" y2="2181.9" stroke="#000" stroke-width="2.50"/>
<line x1="353.5" y1="2137.8" x2="375.5" y2="2137.8" stroke="#000" stroke-width="2.50"/>
<rect x="220.1" y="2193.6" width="26.9" height="101.2" fill="#f2f2f2" stroke="#000" stroke-width="3.50"/>
<rect x="250.4" y="2280.0" width="25.4" height="14.8" fill="#ff0000" stroke="#000" stroke-width="3.50"/>
<rect x="321.4" y="1865.2" width="27.4" height="429.5" fill="#f2f2f2" stroke="#000" stroke-width="3.50"/>
<rect x="351.1" y="2183.6" width="26.9" height="111.1" fill="#ff0000" stroke="#000" stroke-width="3.50"/>
<text x="341.6" y="2121.3" font-size="33.0" letter-spacing="2.4">***</text>
<rect x="413.0" y="1821.0" width="17.0" height="17.0" fill="#f2f2f2" stroke="#000" stroke-width="2.50"/>
<rect x="413.0" y="1866.5" width="17.0" height="17.0" fill="#ff0000" stroke="#000" stroke-width="2.50"/>
<text x="437.0" y="1841.0" font-size="33.5" font-weight="bold">Control</text>
<text x="437.0" y="1885.6" font-size="33.5" font-weight="bold">Amiloride</text>
<text x="247.5" y="2338.5" font-size="26.5" text-anchor="middle">2</text>
<text x="348.8" y="2338.5" font-size="26.5" text-anchor="middle">5</text>
<text x="278.5" y="2399.4" font-size="33.0" font-weight="bold" text-anchor="middle">Weeks after</text>
<text x="282.5" y="2437.5" font-size="33.0" font-weight="bold" text-anchor="middle">inoculation</text>
<text transform="translate(110.5,2036.0) rotate(-90)" font-size="33.5" font-weight="bold" text-anchor="middle">Normalized total flux (γ/s)</text>
<text x="731.3" y="1792.0" font-size="75.0" font-weight="bold">G</text>
<line x1="849.0" y1="2393.3" x2="860.8" y2="2393.3" stroke="#000" stroke-width="2.00"/>
<text x="842.5" y="2400.3" font-size="19.5" text-anchor="end" textLength="35" lengthAdjust="spacingAndGlyphs">0.0</text>
<line x1="849.0" y1="2333.0" x2="860.8" y2="2333.0" stroke="#000" stroke-width="2.00"/>
<text x="842.5" y="2340.0" font-size="19.5" text-anchor="end" textLength="35" lengthAdjust="spacingAndGlyphs">0.1</text>
<line x1="849.0" y1="2272.7" x2="860.8" y2="2272.7" stroke="#000" stroke-width="2.00"/>
<text x="842.5" y="2279.7" font-size="19.5" text-anchor="end" textLength="35" lengthAdjust="spacingAndGlyphs">0.2</text>
<line x1="849.0" y1="2212.4" x2="860.8" y2="2212.4" stroke="#000" stroke-width="2.00"/>
<text x="842.5" y="2219.4" font-size="19.5" text-anchor="end" textLength="35" lengthAdjust="spacingAndGlyphs">0.3</text>
<line x1="849.0" y1="2152.1" x2="860.8" y2="2152.1" stroke="#000" stroke-width="2.00"/>
<text x="842.5" y="2159.1" font-size="19.5" text-anchor="end" textLength="35" lengthAdjust="spacingAndGlyphs">0.4</text>
<line x1="849.0" y1="2091.8" x2="860.8" y2="2091.8" stroke="#000" stroke-width="2.00"/>
<text x="842.5" y="2098.8" font-size="19.5" text-anchor="end" textLength="35" lengthAdjust="spacingAndGlyphs">0.5</text>
<line x1="849.0" y1="2031.5" x2="860.8" y2="2031.5" stroke="#000" stroke-width="2.00"/>
<text x="842.5" y="2038.5" font-size="19.5" text-anchor="end" textLength="35" lengthAdjust="spacingAndGlyphs">0.6</text>
<line x1="849.0" y1="1971.2" x2="860.8" y2="1971.2" stroke="#000" stroke-width="2.00"/>
<text x="842.5" y="1978.2" font-size="19.5" text-anchor="end" textLength="35" lengthAdjust="spacingAndGlyphs">0.7</text>
<line x1="849.0" y1="1910.9" x2="860.8" y2="1910.9" stroke="#000" stroke-width="2.00"/>
<text x="842.5" y="1917.9" font-size="19.5" text-anchor="end" textLength="35" lengthAdjust="spacingAndGlyphs">0.8</text>
<line x1="849.0" y1="1850.6" x2="860.8" y2="1850.6" stroke="#000" stroke-width="2.00"/>
<text x="842.5" y="1857.6" font-size="19.5" text-anchor="end" textLength="35" lengthAdjust="spacingAndGlyphs">0.9</text>
<line x1="849.0" y1="1790.3" x2="860.8" y2="1790.3" stroke="#000" stroke-width="2.00"/>
<text x="842.5" y="1797.3" font-size="19.5" text-anchor="end" textLength="35" lengthAdjust="spacingAndGlyphs">1.0</text>
<line x1="860.8" y1="2393.3" x2="860.8" y2="2401.3" stroke="#000" stroke-width="2.00"/>
<text x="860.8" y="2421.8" font-size="19.5" text-anchor="middle" textLength="13.3" lengthAdjust="spacingAndGlyphs">0</text>
<line x1="954.9" y1="2393.3" x2="954.9" y2="2401.3" stroke="#000" stroke-width="2.00"/>
<text x="954.9" y="2421.8" font-size="19.5" text-anchor="middle" textLength="13.3" lengthAdjust="spacingAndGlyphs">5</text>
<line x1="1049.0" y1="2393.3" x2="1049.0" y2="2401.3" stroke="#000" stroke-width="2.00"/>
<text x="1049.0" y="2421.8" font-size="19.5" text-anchor="middle" textLength="27.0" lengthAdjust="spacingAndGlyphs">10</text>
<line x1="1143.1" y1="2393.3" x2="1143.1" y2="2401.3" stroke="#000" stroke-width="2.00"/>
<text x="1143.1" y="2421.8" font-size="19.5" text-anchor="middle" textLength="27.0" lengthAdjust="spacingAndGlyphs">15</text>
<line x1="1237.2" y1="2393.3" x2="1237.2" y2="2401.3" stroke="#000" stroke-width="2.00"/>
<text x="1237.2" y="2421.8" font-size="19.5" text-anchor="middle" textLength="27.0" lengthAdjust="spacingAndGlyphs">20</text>
<line x1="1331.3" y1="2393.3" x2="1331.3" y2="2401.3" stroke="#000" stroke-width="2.00"/>
<text x="1331.3" y="2421.8" font-size="19.5" text-anchor="middle" textLength="27.0" lengthAdjust="spacingAndGlyphs">25</text>
<line x1="1425.4" y1="2393.3" x2="1425.4" y2="2401.3" stroke="#000" stroke-width="2.00"/>
<text x="1425.4" y="2421.8" font-size="19.5" text-anchor="middle" textLength="27.0" lengthAdjust="spacingAndGlyphs">30</text>
<line x1="1519.5" y1="2393.3" x2="1519.5" y2="2401.3" stroke="#000" stroke-width="2.00"/>
<text x="1519.5" y="2421.8" font-size="19.5" text-anchor="middle" textLength="27.0" lengthAdjust="spacingAndGlyphs">35</text>
<line x1="1613.6" y1="2393.3" x2="1613.6" y2="2401.3" stroke="#000" stroke-width="2.00"/>
<text x="1613.6" y="2421.8" font-size="19.5" text-anchor="middle" textLength="27.0" lengthAdjust="spacingAndGlyphs">40</text>
<line x1="1707.7" y1="2393.3" x2="1707.7" y2="2401.3" stroke="#000" stroke-width="2.00"/>
<text x="1707.7" y="2421.8" font-size="19.5" text-anchor="middle" textLength="27.0" lengthAdjust="spacingAndGlyphs">45</text>
<line x1="1801.8" y1="2393.3" x2="1801.8" y2="2401.3" stroke="#000" stroke-width="2.00"/>
<text x="1801.8" y="2421.8" font-size="19.5" text-anchor="middle" textLength="27.0" lengthAdjust="spacingAndGlyphs">50</text>
<line x1="849.0" y1="2393.3" x2="1801.8" y2="2393.3" stroke="#000" stroke-width="2.00"/>
<line x1="860.8" y1="1790.3" x2="860.8" y2="2393.3" stroke="#000" stroke-width="2.00"/>
<path d="M860.8 1790.3 H1274.8 V1890.8 H1500.7 V2192.3 H1519.5 V2393.3" fill="none" stroke="#0000ff" stroke-width="3"/>
<path d="M860.8 1790.3 H1538.3 V1890.8 H1557.1 V1991.3 H1632.4 V2091.8 H1801.8" fill="none" stroke="#ff0000" stroke-width="3"/>
<circle cx="1801.8" cy="2091.8" r="5" fill="#ff0000"/>
<text x="1702.5" y="2069.0" font-size="31.5" text-anchor="middle" font-family="'DejaVu Sans', 'Liberation Sans', sans-serif">∗∗∗</text>
<text x="1579.5" y="2139.8" font-size="34.0">P = 0.00057</text>
<line x1="964.3" y1="2254.4" x2="1018.5" y2="2254.4" stroke="#0066cc" stroke-width="7.00"/>
<line x1="964.3" y1="2301.0" x2="1018.5" y2="2301.0" stroke="#ff0000" stroke-width="7.00"/>
<text x="1033.5" y="2269.1" font-size="34.0" font-weight="bold">Control</text>
<text x="1033.5" y="2306.2" font-size="34.0" font-weight="bold">Amiloride</text>
<text x="1290.0" y="2465.0" font-size="33.0" font-weight="bold" text-anchor="middle">Time (days)</text>
<text transform="translate(770.0,2099.5) rotate(-90)" font-size="33.0" font-weight="bold" text-anchor="middle">Survival probability</text>
</svg>
</body></html>
